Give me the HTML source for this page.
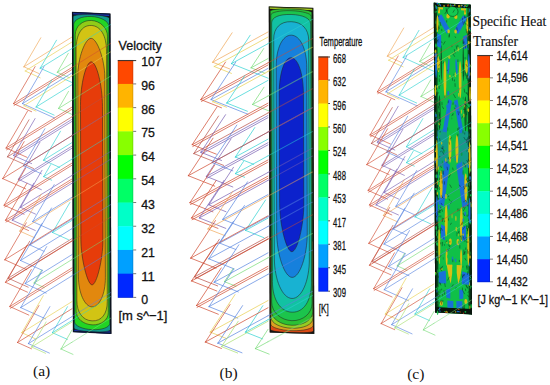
<!DOCTYPE html>
<html><head><meta charset="utf-8"><title>Figure</title>
<style>html,body{margin:0;padding:0;background:#fff;width:550px;height:385px;overflow:hidden}svg{display:block}</style>
</head><body>
<svg width="550" height="385" viewBox="0 0 550 385">
<rect width="550" height="385" fill="#ffffff"/>
<g transform="matrix(1,0,0,1,0,0)" fill="none" stroke-width="0.85" stroke-opacity="0.78" stroke-linecap="round"><line x1="23.9" y1="66.8" x2="38.9" y2="73.5" stroke="#f0a858"/>
<line x1="23.9" y1="66.8" x2="40.8" y2="37.8" stroke="#f0a858"/>
<line x1="23.9" y1="66.8" x2="72.0" y2="37.0" stroke="#f0a858"/>
<line x1="25.2" y1="71.0" x2="40.2" y2="77.8" stroke="#e8d050"/>
<line x1="25.2" y1="71.0" x2="72.0" y2="42.0" stroke="#e8d050"/>
<line x1="40.2" y1="68.2" x2="72.2" y2="82.6" stroke="#30d2d2"/>
<line x1="40.2" y1="68.2" x2="56.5" y2="40.2" stroke="#30d2d2"/>
<line x1="40.2" y1="68.2" x2="72.0" y2="48.5" stroke="#30d2d2"/>
<line x1="57.3" y1="72.3" x2="69.3" y2="77.7" stroke="#78dc78"/>
<line x1="57.3" y1="72.3" x2="68.3" y2="53.3" stroke="#78dc78"/>
<line x1="57.3" y1="72.3" x2="72.0" y2="63.2" stroke="#78dc78"/>
<line x1="13.6" y1="103.6" x2="31.6" y2="111.7" stroke="#d04a30"/>
<line x1="13.6" y1="103.6" x2="35.1" y2="66.6" stroke="#d04a30"/>
<line x1="13.6" y1="103.6" x2="72.0" y2="67.4" stroke="#d04a30"/>
<line x1="14.1" y1="105.4" x2="72.0" y2="69.5" stroke="#d04a30"/>
<line x1="22.5" y1="103.6" x2="54.5" y2="118.0" stroke="#5a86e0"/>
<line x1="22.5" y1="103.6" x2="44.0" y2="66.6" stroke="#5a86e0"/>
<line x1="22.5" y1="103.6" x2="72.0" y2="72.9" stroke="#5a86e0"/>
<line x1="23.9" y1="105.7" x2="35.9" y2="111.1" stroke="#e8d050"/>
<line x1="23.9" y1="105.7" x2="72.0" y2="75.9" stroke="#e8d050"/>
<line x1="36.1" y1="107.0" x2="54.1" y2="115.1" stroke="#30d2d2"/>
<line x1="36.1" y1="107.0" x2="51.8" y2="80.0" stroke="#30d2d2"/>
<line x1="36.1" y1="107.0" x2="72.0" y2="84.7" stroke="#30d2d2"/>
<line x1="58.6" y1="108.4" x2="72.6" y2="114.7" stroke="#78dc78"/>
<line x1="58.6" y1="108.4" x2="68.5" y2="91.4" stroke="#78dc78"/>
<line x1="58.6" y1="108.4" x2="72.0" y2="100.1" stroke="#78dc78"/>
<line x1="6.1" y1="148.0" x2="27.1" y2="157.4" stroke="#d04a30"/>
<line x1="6.1" y1="148.0" x2="27.6" y2="111.0" stroke="#d04a30"/>
<line x1="6.1" y1="148.0" x2="72.0" y2="107.1" stroke="#d04a30"/>
<line x1="6.6" y1="149.8" x2="72.0" y2="109.3" stroke="#d04a30"/>
<line x1="7.5" y1="156.8" x2="33.5" y2="168.5" stroke="#b85048"/>
<line x1="7.5" y1="156.8" x2="29.0" y2="119.8" stroke="#b85048"/>
<line x1="7.5" y1="156.8" x2="72.0" y2="116.8" stroke="#b85048"/>
<line x1="13.6" y1="155.5" x2="31.6" y2="163.6" stroke="#7a60b4"/>
<line x1="13.6" y1="155.5" x2="35.1" y2="118.5" stroke="#7a60b4"/>
<line x1="13.6" y1="155.5" x2="72.0" y2="119.3" stroke="#7a60b4"/>
<line x1="14.1" y1="157.3" x2="72.0" y2="121.4" stroke="#7a60b4"/>
<line x1="23.4" y1="165.7" x2="41.4" y2="173.8" stroke="#5a86e0"/>
<line x1="23.4" y1="165.7" x2="44.9" y2="128.7" stroke="#5a86e0"/>
<line x1="23.4" y1="165.7" x2="72.0" y2="135.6" stroke="#5a86e0"/>
<line x1="43.6" y1="160.2" x2="59.6" y2="167.4" stroke="#30d2d2"/>
<line x1="43.6" y1="160.2" x2="60.5" y2="131.2" stroke="#30d2d2"/>
<line x1="43.6" y1="160.2" x2="72.0" y2="142.6" stroke="#30d2d2"/>
<line x1="2.7" y1="178.6" x2="25.7" y2="188.9" stroke="#d04a30"/>
<line x1="2.7" y1="178.6" x2="24.2" y2="141.6" stroke="#d04a30"/>
<line x1="2.7" y1="178.6" x2="72.0" y2="135.6" stroke="#d04a30"/>
<line x1="18.4" y1="179.3" x2="41.4" y2="189.7" stroke="#7a60b4"/>
<line x1="18.4" y1="179.3" x2="39.9" y2="142.3" stroke="#7a60b4"/>
<line x1="18.4" y1="179.3" x2="72.0" y2="146.1" stroke="#7a60b4"/>
<line x1="18.9" y1="181.1" x2="72.0" y2="148.2" stroke="#7a60b4"/>
<line x1="43.7" y1="176.6" x2="51.7" y2="180.2" stroke="#30d2d2"/>
<line x1="43.7" y1="176.6" x2="50.7" y2="164.6" stroke="#30d2d2"/>
<line x1="43.7" y1="176.6" x2="72.0" y2="159.1" stroke="#30d2d2"/>
<line x1="4.1" y1="205.2" x2="24.1" y2="214.2" stroke="#d04a30"/>
<line x1="4.1" y1="205.2" x2="25.6" y2="168.2" stroke="#d04a30"/>
<line x1="4.1" y1="205.2" x2="72.0" y2="163.1" stroke="#d04a30"/>
<line x1="4.6" y1="207.0" x2="72.0" y2="165.2" stroke="#d04a30"/>
<line x1="20.5" y1="207.3" x2="35.5" y2="214.1" stroke="#7a60b4"/>
<line x1="20.5" y1="207.3" x2="42.0" y2="170.3" stroke="#7a60b4"/>
<line x1="20.5" y1="207.3" x2="72.0" y2="175.4" stroke="#7a60b4"/>
<line x1="5.5" y1="220.2" x2="28.5" y2="230.5" stroke="#d04a30"/>
<line x1="5.5" y1="220.2" x2="27.0" y2="183.2" stroke="#d04a30"/>
<line x1="5.5" y1="220.2" x2="72.0" y2="179.0" stroke="#d04a30"/>
<line x1="6.0" y1="222.0" x2="72.0" y2="181.1" stroke="#d04a30"/>
<line x1="12.3" y1="220.2" x2="35.3" y2="230.5" stroke="#7a60b4"/>
<line x1="12.3" y1="220.2" x2="33.8" y2="183.2" stroke="#7a60b4"/>
<line x1="12.3" y1="220.2" x2="72.0" y2="183.2" stroke="#7a60b4"/>
<line x1="32.7" y1="221.6" x2="51.7" y2="230.2" stroke="#5a86e0"/>
<line x1="32.7" y1="221.6" x2="54.2" y2="184.6" stroke="#5a86e0"/>
<line x1="32.7" y1="221.6" x2="72.0" y2="197.2" stroke="#5a86e0"/>
<line x1="19.8" y1="231.1" x2="34.8" y2="237.8" stroke="#f0a858"/>
<line x1="19.8" y1="231.1" x2="41.3" y2="194.1" stroke="#f0a858"/>
<line x1="19.8" y1="231.1" x2="72.0" y2="198.7" stroke="#f0a858"/>
<line x1="52.5" y1="232.5" x2="68.5" y2="239.7" stroke="#30d2d2"/>
<line x1="52.5" y1="232.5" x2="69.9" y2="202.5" stroke="#30d2d2"/>
<line x1="52.5" y1="232.5" x2="72.0" y2="220.4" stroke="#30d2d2"/>
<line x1="30.0" y1="245.0" x2="44.0" y2="251.3" stroke="#5a86e0"/>
<line x1="30.0" y1="245.0" x2="51.5" y2="208.0" stroke="#5a86e0"/>
<line x1="30.0" y1="245.0" x2="72.0" y2="219.0" stroke="#5a86e0"/>
<line x1="4.8" y1="259.8" x2="26.8" y2="269.7" stroke="#d04a30"/>
<line x1="4.8" y1="259.8" x2="26.3" y2="222.8" stroke="#d04a30"/>
<line x1="4.8" y1="259.8" x2="72.0" y2="218.1" stroke="#d04a30"/>
<line x1="20.5" y1="260.5" x2="42.5" y2="270.4" stroke="#5a86e0"/>
<line x1="20.5" y1="260.5" x2="42.0" y2="223.5" stroke="#5a86e0"/>
<line x1="20.5" y1="260.5" x2="72.0" y2="228.6" stroke="#5a86e0"/>
<line x1="8.2" y1="278.2" x2="28.2" y2="287.2" stroke="#b85048"/>
<line x1="8.2" y1="278.2" x2="29.7" y2="241.2" stroke="#b85048"/>
<line x1="8.2" y1="278.2" x2="72.0" y2="238.6" stroke="#b85048"/>
<line x1="8.7" y1="280.0" x2="72.0" y2="240.8" stroke="#b85048"/>
<line x1="5.5" y1="282.3" x2="27.5" y2="292.2" stroke="#d04a30"/>
<line x1="5.5" y1="282.3" x2="27.0" y2="245.3" stroke="#d04a30"/>
<line x1="5.5" y1="282.3" x2="72.0" y2="241.1" stroke="#d04a30"/>
<line x1="25.2" y1="283.6" x2="46.2" y2="293.1" stroke="#5a86e0"/>
<line x1="25.2" y1="283.6" x2="46.7" y2="246.6" stroke="#5a86e0"/>
<line x1="25.2" y1="283.6" x2="72.0" y2="254.6" stroke="#5a86e0"/>
<line x1="34.1" y1="283.0" x2="44.1" y2="287.5" stroke="#78dc78"/>
<line x1="34.1" y1="283.0" x2="41.7" y2="270.0" stroke="#78dc78"/>
<line x1="34.1" y1="283.0" x2="72.0" y2="259.5" stroke="#78dc78"/>
<line x1="9.8" y1="306.5" x2="28.8" y2="315.1" stroke="#d04a30"/>
<line x1="9.8" y1="306.5" x2="31.3" y2="269.5" stroke="#d04a30"/>
<line x1="9.8" y1="306.5" x2="72.0" y2="267.9" stroke="#d04a30"/>
<line x1="10.3" y1="308.3" x2="72.0" y2="270.1" stroke="#d04a30"/>
<line x1="20.7" y1="307.6" x2="45.7" y2="318.9" stroke="#5a86e0"/>
<line x1="20.7" y1="307.6" x2="42.2" y2="270.6" stroke="#5a86e0"/>
<line x1="20.7" y1="307.6" x2="72.0" y2="275.8" stroke="#5a86e0"/>
<line x1="21.8" y1="332.7" x2="35.8" y2="339.0" stroke="#e8d050"/>
<line x1="21.8" y1="332.7" x2="43.3" y2="295.7" stroke="#e8d050"/>
<line x1="21.8" y1="332.7" x2="72.0" y2="301.6" stroke="#e8d050"/>
<line x1="52.4" y1="332.7" x2="67.4" y2="339.4" stroke="#30d2d2"/>
<line x1="52.4" y1="332.7" x2="67.5" y2="306.7" stroke="#30d2d2"/>
<line x1="52.4" y1="332.7" x2="72.0" y2="320.5" stroke="#30d2d2"/>
<line x1="17.5" y1="342.5" x2="31.5" y2="348.8" stroke="#d04a30"/>
<line x1="17.5" y1="342.5" x2="39.0" y2="305.5" stroke="#d04a30"/>
<line x1="17.5" y1="342.5" x2="72.0" y2="308.7" stroke="#d04a30"/>
<line x1="28.4" y1="343.6" x2="49.4" y2="353.1" stroke="#5a86e0"/>
<line x1="28.4" y1="343.6" x2="49.9" y2="306.6" stroke="#5a86e0"/>
<line x1="28.4" y1="343.6" x2="72.0" y2="316.6" stroke="#5a86e0"/>
<line x1="31.6" y1="347.0" x2="45.6" y2="353.3" stroke="#a8e070"/>
<line x1="31.6" y1="347.0" x2="46.1" y2="322.0" stroke="#a8e070"/>
<line x1="31.6" y1="347.0" x2="72.0" y2="322.0" stroke="#a8e070"/>
<line x1="61.0" y1="349.0" x2="73.0" y2="354.4" stroke="#78dc78"/>
<line x1="61.0" y1="349.0" x2="72.0" y2="330.0" stroke="#78dc78"/>
<line x1="61.0" y1="349.0" x2="72.0" y2="342.2" stroke="#78dc78"/></g>
<g transform="matrix(1.15,0,0,1.015,185.2,-5.58)" fill="none" stroke-width="0.85" stroke-opacity="0.78" stroke-linecap="round"><line x1="23.9" y1="66.8" x2="38.9" y2="73.5" stroke="#f0a858"/>
<line x1="23.9" y1="66.8" x2="40.8" y2="37.8" stroke="#f0a858"/>
<line x1="23.9" y1="66.8" x2="72.0" y2="37.0" stroke="#f0a858"/>
<line x1="25.2" y1="71.0" x2="40.2" y2="77.8" stroke="#e8d050"/>
<line x1="25.2" y1="71.0" x2="72.0" y2="42.0" stroke="#e8d050"/>
<line x1="40.2" y1="68.2" x2="72.2" y2="82.6" stroke="#30d2d2"/>
<line x1="40.2" y1="68.2" x2="56.5" y2="40.2" stroke="#30d2d2"/>
<line x1="40.2" y1="68.2" x2="72.0" y2="48.5" stroke="#30d2d2"/>
<line x1="57.3" y1="72.3" x2="69.3" y2="77.7" stroke="#78dc78"/>
<line x1="57.3" y1="72.3" x2="68.3" y2="53.3" stroke="#78dc78"/>
<line x1="57.3" y1="72.3" x2="72.0" y2="63.2" stroke="#78dc78"/>
<line x1="13.6" y1="103.6" x2="31.6" y2="111.7" stroke="#d04a30"/>
<line x1="13.6" y1="103.6" x2="35.1" y2="66.6" stroke="#d04a30"/>
<line x1="13.6" y1="103.6" x2="72.0" y2="67.4" stroke="#d04a30"/>
<line x1="14.1" y1="105.4" x2="72.0" y2="69.5" stroke="#d04a30"/>
<line x1="22.5" y1="103.6" x2="54.5" y2="118.0" stroke="#5a86e0"/>
<line x1="22.5" y1="103.6" x2="44.0" y2="66.6" stroke="#5a86e0"/>
<line x1="22.5" y1="103.6" x2="72.0" y2="72.9" stroke="#5a86e0"/>
<line x1="23.9" y1="105.7" x2="35.9" y2="111.1" stroke="#e8d050"/>
<line x1="23.9" y1="105.7" x2="72.0" y2="75.9" stroke="#e8d050"/>
<line x1="36.1" y1="107.0" x2="54.1" y2="115.1" stroke="#30d2d2"/>
<line x1="36.1" y1="107.0" x2="51.8" y2="80.0" stroke="#30d2d2"/>
<line x1="36.1" y1="107.0" x2="72.0" y2="84.7" stroke="#30d2d2"/>
<line x1="58.6" y1="108.4" x2="72.6" y2="114.7" stroke="#78dc78"/>
<line x1="58.6" y1="108.4" x2="68.5" y2="91.4" stroke="#78dc78"/>
<line x1="58.6" y1="108.4" x2="72.0" y2="100.1" stroke="#78dc78"/>
<line x1="6.1" y1="148.0" x2="27.1" y2="157.4" stroke="#d04a30"/>
<line x1="6.1" y1="148.0" x2="27.6" y2="111.0" stroke="#d04a30"/>
<line x1="6.1" y1="148.0" x2="72.0" y2="107.1" stroke="#d04a30"/>
<line x1="6.6" y1="149.8" x2="72.0" y2="109.3" stroke="#d04a30"/>
<line x1="7.5" y1="156.8" x2="33.5" y2="168.5" stroke="#b85048"/>
<line x1="7.5" y1="156.8" x2="29.0" y2="119.8" stroke="#b85048"/>
<line x1="7.5" y1="156.8" x2="72.0" y2="116.8" stroke="#b85048"/>
<line x1="13.6" y1="155.5" x2="31.6" y2="163.6" stroke="#7a60b4"/>
<line x1="13.6" y1="155.5" x2="35.1" y2="118.5" stroke="#7a60b4"/>
<line x1="13.6" y1="155.5" x2="72.0" y2="119.3" stroke="#7a60b4"/>
<line x1="14.1" y1="157.3" x2="72.0" y2="121.4" stroke="#7a60b4"/>
<line x1="23.4" y1="165.7" x2="41.4" y2="173.8" stroke="#5a86e0"/>
<line x1="23.4" y1="165.7" x2="44.9" y2="128.7" stroke="#5a86e0"/>
<line x1="23.4" y1="165.7" x2="72.0" y2="135.6" stroke="#5a86e0"/>
<line x1="43.6" y1="160.2" x2="59.6" y2="167.4" stroke="#30d2d2"/>
<line x1="43.6" y1="160.2" x2="60.5" y2="131.2" stroke="#30d2d2"/>
<line x1="43.6" y1="160.2" x2="72.0" y2="142.6" stroke="#30d2d2"/>
<line x1="2.7" y1="178.6" x2="25.7" y2="188.9" stroke="#d04a30"/>
<line x1="2.7" y1="178.6" x2="24.2" y2="141.6" stroke="#d04a30"/>
<line x1="2.7" y1="178.6" x2="72.0" y2="135.6" stroke="#d04a30"/>
<line x1="18.4" y1="179.3" x2="41.4" y2="189.7" stroke="#7a60b4"/>
<line x1="18.4" y1="179.3" x2="39.9" y2="142.3" stroke="#7a60b4"/>
<line x1="18.4" y1="179.3" x2="72.0" y2="146.1" stroke="#7a60b4"/>
<line x1="18.9" y1="181.1" x2="72.0" y2="148.2" stroke="#7a60b4"/>
<line x1="43.7" y1="176.6" x2="51.7" y2="180.2" stroke="#30d2d2"/>
<line x1="43.7" y1="176.6" x2="50.7" y2="164.6" stroke="#30d2d2"/>
<line x1="43.7" y1="176.6" x2="72.0" y2="159.1" stroke="#30d2d2"/>
<line x1="4.1" y1="205.2" x2="24.1" y2="214.2" stroke="#d04a30"/>
<line x1="4.1" y1="205.2" x2="25.6" y2="168.2" stroke="#d04a30"/>
<line x1="4.1" y1="205.2" x2="72.0" y2="163.1" stroke="#d04a30"/>
<line x1="4.6" y1="207.0" x2="72.0" y2="165.2" stroke="#d04a30"/>
<line x1="20.5" y1="207.3" x2="35.5" y2="214.1" stroke="#7a60b4"/>
<line x1="20.5" y1="207.3" x2="42.0" y2="170.3" stroke="#7a60b4"/>
<line x1="20.5" y1="207.3" x2="72.0" y2="175.4" stroke="#7a60b4"/>
<line x1="5.5" y1="220.2" x2="28.5" y2="230.5" stroke="#d04a30"/>
<line x1="5.5" y1="220.2" x2="27.0" y2="183.2" stroke="#d04a30"/>
<line x1="5.5" y1="220.2" x2="72.0" y2="179.0" stroke="#d04a30"/>
<line x1="6.0" y1="222.0" x2="72.0" y2="181.1" stroke="#d04a30"/>
<line x1="12.3" y1="220.2" x2="35.3" y2="230.5" stroke="#7a60b4"/>
<line x1="12.3" y1="220.2" x2="33.8" y2="183.2" stroke="#7a60b4"/>
<line x1="12.3" y1="220.2" x2="72.0" y2="183.2" stroke="#7a60b4"/>
<line x1="32.7" y1="221.6" x2="51.7" y2="230.2" stroke="#5a86e0"/>
<line x1="32.7" y1="221.6" x2="54.2" y2="184.6" stroke="#5a86e0"/>
<line x1="32.7" y1="221.6" x2="72.0" y2="197.2" stroke="#5a86e0"/>
<line x1="19.8" y1="231.1" x2="34.8" y2="237.8" stroke="#f0a858"/>
<line x1="19.8" y1="231.1" x2="41.3" y2="194.1" stroke="#f0a858"/>
<line x1="19.8" y1="231.1" x2="72.0" y2="198.7" stroke="#f0a858"/>
<line x1="52.5" y1="232.5" x2="68.5" y2="239.7" stroke="#30d2d2"/>
<line x1="52.5" y1="232.5" x2="69.9" y2="202.5" stroke="#30d2d2"/>
<line x1="52.5" y1="232.5" x2="72.0" y2="220.4" stroke="#30d2d2"/>
<line x1="30.0" y1="245.0" x2="44.0" y2="251.3" stroke="#5a86e0"/>
<line x1="30.0" y1="245.0" x2="51.5" y2="208.0" stroke="#5a86e0"/>
<line x1="30.0" y1="245.0" x2="72.0" y2="219.0" stroke="#5a86e0"/>
<line x1="4.8" y1="259.8" x2="26.8" y2="269.7" stroke="#d04a30"/>
<line x1="4.8" y1="259.8" x2="26.3" y2="222.8" stroke="#d04a30"/>
<line x1="4.8" y1="259.8" x2="72.0" y2="218.1" stroke="#d04a30"/>
<line x1="20.5" y1="260.5" x2="42.5" y2="270.4" stroke="#5a86e0"/>
<line x1="20.5" y1="260.5" x2="42.0" y2="223.5" stroke="#5a86e0"/>
<line x1="20.5" y1="260.5" x2="72.0" y2="228.6" stroke="#5a86e0"/>
<line x1="8.2" y1="278.2" x2="28.2" y2="287.2" stroke="#b85048"/>
<line x1="8.2" y1="278.2" x2="29.7" y2="241.2" stroke="#b85048"/>
<line x1="8.2" y1="278.2" x2="72.0" y2="238.6" stroke="#b85048"/>
<line x1="8.7" y1="280.0" x2="72.0" y2="240.8" stroke="#b85048"/>
<line x1="5.5" y1="282.3" x2="27.5" y2="292.2" stroke="#d04a30"/>
<line x1="5.5" y1="282.3" x2="27.0" y2="245.3" stroke="#d04a30"/>
<line x1="5.5" y1="282.3" x2="72.0" y2="241.1" stroke="#d04a30"/>
<line x1="25.2" y1="283.6" x2="46.2" y2="293.1" stroke="#5a86e0"/>
<line x1="25.2" y1="283.6" x2="46.7" y2="246.6" stroke="#5a86e0"/>
<line x1="25.2" y1="283.6" x2="72.0" y2="254.6" stroke="#5a86e0"/>
<line x1="34.1" y1="283.0" x2="44.1" y2="287.5" stroke="#78dc78"/>
<line x1="34.1" y1="283.0" x2="41.7" y2="270.0" stroke="#78dc78"/>
<line x1="34.1" y1="283.0" x2="72.0" y2="259.5" stroke="#78dc78"/>
<line x1="9.8" y1="306.5" x2="28.8" y2="315.1" stroke="#d04a30"/>
<line x1="9.8" y1="306.5" x2="31.3" y2="269.5" stroke="#d04a30"/>
<line x1="9.8" y1="306.5" x2="72.0" y2="267.9" stroke="#d04a30"/>
<line x1="10.3" y1="308.3" x2="72.0" y2="270.1" stroke="#d04a30"/>
<line x1="20.7" y1="307.6" x2="45.7" y2="318.9" stroke="#5a86e0"/>
<line x1="20.7" y1="307.6" x2="42.2" y2="270.6" stroke="#5a86e0"/>
<line x1="20.7" y1="307.6" x2="72.0" y2="275.8" stroke="#5a86e0"/>
<line x1="21.8" y1="332.7" x2="35.8" y2="339.0" stroke="#e8d050"/>
<line x1="21.8" y1="332.7" x2="43.3" y2="295.7" stroke="#e8d050"/>
<line x1="21.8" y1="332.7" x2="72.0" y2="301.6" stroke="#e8d050"/>
<line x1="52.4" y1="332.7" x2="67.4" y2="339.4" stroke="#30d2d2"/>
<line x1="52.4" y1="332.7" x2="67.5" y2="306.7" stroke="#30d2d2"/>
<line x1="52.4" y1="332.7" x2="72.0" y2="320.5" stroke="#30d2d2"/>
<line x1="17.5" y1="342.5" x2="31.5" y2="348.8" stroke="#d04a30"/>
<line x1="17.5" y1="342.5" x2="39.0" y2="305.5" stroke="#d04a30"/>
<line x1="17.5" y1="342.5" x2="72.0" y2="308.7" stroke="#d04a30"/>
<line x1="28.4" y1="343.6" x2="49.4" y2="353.1" stroke="#5a86e0"/>
<line x1="28.4" y1="343.6" x2="49.9" y2="306.6" stroke="#5a86e0"/>
<line x1="28.4" y1="343.6" x2="72.0" y2="316.6" stroke="#5a86e0"/>
<line x1="31.6" y1="347.0" x2="45.6" y2="353.3" stroke="#a8e070"/>
<line x1="31.6" y1="347.0" x2="46.1" y2="322.0" stroke="#a8e070"/>
<line x1="31.6" y1="347.0" x2="72.0" y2="322.0" stroke="#a8e070"/>
<line x1="61.0" y1="349.0" x2="73.0" y2="354.4" stroke="#78dc78"/>
<line x1="61.0" y1="349.0" x2="72.0" y2="330.0" stroke="#78dc78"/>
<line x1="61.0" y1="349.0" x2="72.0" y2="342.2" stroke="#78dc78"/></g>
<g transform="matrix(0.97,0,0,0.97,364.16,-8.64)" fill="none" stroke-width="0.85" stroke-opacity="0.78" stroke-linecap="round"><line x1="23.9" y1="66.8" x2="38.9" y2="73.5" stroke="#f0a858"/>
<line x1="23.9" y1="66.8" x2="40.8" y2="37.8" stroke="#f0a858"/>
<line x1="23.9" y1="66.8" x2="72.0" y2="37.0" stroke="#f0a858"/>
<line x1="25.2" y1="71.0" x2="40.2" y2="77.8" stroke="#e8d050"/>
<line x1="25.2" y1="71.0" x2="72.0" y2="42.0" stroke="#e8d050"/>
<line x1="40.2" y1="68.2" x2="72.2" y2="82.6" stroke="#30d2d2"/>
<line x1="40.2" y1="68.2" x2="56.5" y2="40.2" stroke="#30d2d2"/>
<line x1="40.2" y1="68.2" x2="72.0" y2="48.5" stroke="#30d2d2"/>
<line x1="57.3" y1="72.3" x2="69.3" y2="77.7" stroke="#78dc78"/>
<line x1="57.3" y1="72.3" x2="68.3" y2="53.3" stroke="#78dc78"/>
<line x1="57.3" y1="72.3" x2="72.0" y2="63.2" stroke="#78dc78"/>
<line x1="13.6" y1="103.6" x2="31.6" y2="111.7" stroke="#d04a30"/>
<line x1="13.6" y1="103.6" x2="35.1" y2="66.6" stroke="#d04a30"/>
<line x1="13.6" y1="103.6" x2="72.0" y2="67.4" stroke="#d04a30"/>
<line x1="14.1" y1="105.4" x2="72.0" y2="69.5" stroke="#d04a30"/>
<line x1="22.5" y1="103.6" x2="54.5" y2="118.0" stroke="#5a86e0"/>
<line x1="22.5" y1="103.6" x2="44.0" y2="66.6" stroke="#5a86e0"/>
<line x1="22.5" y1="103.6" x2="72.0" y2="72.9" stroke="#5a86e0"/>
<line x1="23.9" y1="105.7" x2="35.9" y2="111.1" stroke="#e8d050"/>
<line x1="23.9" y1="105.7" x2="72.0" y2="75.9" stroke="#e8d050"/>
<line x1="36.1" y1="107.0" x2="54.1" y2="115.1" stroke="#30d2d2"/>
<line x1="36.1" y1="107.0" x2="51.8" y2="80.0" stroke="#30d2d2"/>
<line x1="36.1" y1="107.0" x2="72.0" y2="84.7" stroke="#30d2d2"/>
<line x1="58.6" y1="108.4" x2="72.6" y2="114.7" stroke="#78dc78"/>
<line x1="58.6" y1="108.4" x2="68.5" y2="91.4" stroke="#78dc78"/>
<line x1="58.6" y1="108.4" x2="72.0" y2="100.1" stroke="#78dc78"/>
<line x1="6.1" y1="148.0" x2="27.1" y2="157.4" stroke="#d04a30"/>
<line x1="6.1" y1="148.0" x2="27.6" y2="111.0" stroke="#d04a30"/>
<line x1="6.1" y1="148.0" x2="72.0" y2="107.1" stroke="#d04a30"/>
<line x1="6.6" y1="149.8" x2="72.0" y2="109.3" stroke="#d04a30"/>
<line x1="7.5" y1="156.8" x2="33.5" y2="168.5" stroke="#b85048"/>
<line x1="7.5" y1="156.8" x2="29.0" y2="119.8" stroke="#b85048"/>
<line x1="7.5" y1="156.8" x2="72.0" y2="116.8" stroke="#b85048"/>
<line x1="13.6" y1="155.5" x2="31.6" y2="163.6" stroke="#7a60b4"/>
<line x1="13.6" y1="155.5" x2="35.1" y2="118.5" stroke="#7a60b4"/>
<line x1="13.6" y1="155.5" x2="72.0" y2="119.3" stroke="#7a60b4"/>
<line x1="14.1" y1="157.3" x2="72.0" y2="121.4" stroke="#7a60b4"/>
<line x1="23.4" y1="165.7" x2="41.4" y2="173.8" stroke="#5a86e0"/>
<line x1="23.4" y1="165.7" x2="44.9" y2="128.7" stroke="#5a86e0"/>
<line x1="23.4" y1="165.7" x2="72.0" y2="135.6" stroke="#5a86e0"/>
<line x1="43.6" y1="160.2" x2="59.6" y2="167.4" stroke="#30d2d2"/>
<line x1="43.6" y1="160.2" x2="60.5" y2="131.2" stroke="#30d2d2"/>
<line x1="43.6" y1="160.2" x2="72.0" y2="142.6" stroke="#30d2d2"/>
<line x1="2.7" y1="178.6" x2="25.7" y2="188.9" stroke="#d04a30"/>
<line x1="2.7" y1="178.6" x2="24.2" y2="141.6" stroke="#d04a30"/>
<line x1="2.7" y1="178.6" x2="72.0" y2="135.6" stroke="#d04a30"/>
<line x1="18.4" y1="179.3" x2="41.4" y2="189.7" stroke="#7a60b4"/>
<line x1="18.4" y1="179.3" x2="39.9" y2="142.3" stroke="#7a60b4"/>
<line x1="18.4" y1="179.3" x2="72.0" y2="146.1" stroke="#7a60b4"/>
<line x1="18.9" y1="181.1" x2="72.0" y2="148.2" stroke="#7a60b4"/>
<line x1="43.7" y1="176.6" x2="51.7" y2="180.2" stroke="#30d2d2"/>
<line x1="43.7" y1="176.6" x2="50.7" y2="164.6" stroke="#30d2d2"/>
<line x1="43.7" y1="176.6" x2="72.0" y2="159.1" stroke="#30d2d2"/>
<line x1="4.1" y1="205.2" x2="24.1" y2="214.2" stroke="#d04a30"/>
<line x1="4.1" y1="205.2" x2="25.6" y2="168.2" stroke="#d04a30"/>
<line x1="4.1" y1="205.2" x2="72.0" y2="163.1" stroke="#d04a30"/>
<line x1="4.6" y1="207.0" x2="72.0" y2="165.2" stroke="#d04a30"/>
<line x1="20.5" y1="207.3" x2="35.5" y2="214.1" stroke="#7a60b4"/>
<line x1="20.5" y1="207.3" x2="42.0" y2="170.3" stroke="#7a60b4"/>
<line x1="20.5" y1="207.3" x2="72.0" y2="175.4" stroke="#7a60b4"/>
<line x1="5.5" y1="220.2" x2="28.5" y2="230.5" stroke="#d04a30"/>
<line x1="5.5" y1="220.2" x2="27.0" y2="183.2" stroke="#d04a30"/>
<line x1="5.5" y1="220.2" x2="72.0" y2="179.0" stroke="#d04a30"/>
<line x1="6.0" y1="222.0" x2="72.0" y2="181.1" stroke="#d04a30"/>
<line x1="12.3" y1="220.2" x2="35.3" y2="230.5" stroke="#7a60b4"/>
<line x1="12.3" y1="220.2" x2="33.8" y2="183.2" stroke="#7a60b4"/>
<line x1="12.3" y1="220.2" x2="72.0" y2="183.2" stroke="#7a60b4"/>
<line x1="32.7" y1="221.6" x2="51.7" y2="230.2" stroke="#5a86e0"/>
<line x1="32.7" y1="221.6" x2="54.2" y2="184.6" stroke="#5a86e0"/>
<line x1="32.7" y1="221.6" x2="72.0" y2="197.2" stroke="#5a86e0"/>
<line x1="19.8" y1="231.1" x2="34.8" y2="237.8" stroke="#f0a858"/>
<line x1="19.8" y1="231.1" x2="41.3" y2="194.1" stroke="#f0a858"/>
<line x1="19.8" y1="231.1" x2="72.0" y2="198.7" stroke="#f0a858"/>
<line x1="52.5" y1="232.5" x2="68.5" y2="239.7" stroke="#30d2d2"/>
<line x1="52.5" y1="232.5" x2="69.9" y2="202.5" stroke="#30d2d2"/>
<line x1="52.5" y1="232.5" x2="72.0" y2="220.4" stroke="#30d2d2"/>
<line x1="30.0" y1="245.0" x2="44.0" y2="251.3" stroke="#5a86e0"/>
<line x1="30.0" y1="245.0" x2="51.5" y2="208.0" stroke="#5a86e0"/>
<line x1="30.0" y1="245.0" x2="72.0" y2="219.0" stroke="#5a86e0"/>
<line x1="4.8" y1="259.8" x2="26.8" y2="269.7" stroke="#d04a30"/>
<line x1="4.8" y1="259.8" x2="26.3" y2="222.8" stroke="#d04a30"/>
<line x1="4.8" y1="259.8" x2="72.0" y2="218.1" stroke="#d04a30"/>
<line x1="20.5" y1="260.5" x2="42.5" y2="270.4" stroke="#5a86e0"/>
<line x1="20.5" y1="260.5" x2="42.0" y2="223.5" stroke="#5a86e0"/>
<line x1="20.5" y1="260.5" x2="72.0" y2="228.6" stroke="#5a86e0"/>
<line x1="8.2" y1="278.2" x2="28.2" y2="287.2" stroke="#b85048"/>
<line x1="8.2" y1="278.2" x2="29.7" y2="241.2" stroke="#b85048"/>
<line x1="8.2" y1="278.2" x2="72.0" y2="238.6" stroke="#b85048"/>
<line x1="8.7" y1="280.0" x2="72.0" y2="240.8" stroke="#b85048"/>
<line x1="5.5" y1="282.3" x2="27.5" y2="292.2" stroke="#d04a30"/>
<line x1="5.5" y1="282.3" x2="27.0" y2="245.3" stroke="#d04a30"/>
<line x1="5.5" y1="282.3" x2="72.0" y2="241.1" stroke="#d04a30"/>
<line x1="25.2" y1="283.6" x2="46.2" y2="293.1" stroke="#5a86e0"/>
<line x1="25.2" y1="283.6" x2="46.7" y2="246.6" stroke="#5a86e0"/>
<line x1="25.2" y1="283.6" x2="72.0" y2="254.6" stroke="#5a86e0"/>
<line x1="34.1" y1="283.0" x2="44.1" y2="287.5" stroke="#78dc78"/>
<line x1="34.1" y1="283.0" x2="41.7" y2="270.0" stroke="#78dc78"/>
<line x1="34.1" y1="283.0" x2="72.0" y2="259.5" stroke="#78dc78"/>
<line x1="9.8" y1="306.5" x2="28.8" y2="315.1" stroke="#d04a30"/>
<line x1="9.8" y1="306.5" x2="31.3" y2="269.5" stroke="#d04a30"/>
<line x1="9.8" y1="306.5" x2="72.0" y2="267.9" stroke="#d04a30"/>
<line x1="10.3" y1="308.3" x2="72.0" y2="270.1" stroke="#d04a30"/>
<line x1="20.7" y1="307.6" x2="45.7" y2="318.9" stroke="#5a86e0"/>
<line x1="20.7" y1="307.6" x2="42.2" y2="270.6" stroke="#5a86e0"/>
<line x1="20.7" y1="307.6" x2="72.0" y2="275.8" stroke="#5a86e0"/>
<line x1="21.8" y1="332.7" x2="35.8" y2="339.0" stroke="#e8d050"/>
<line x1="21.8" y1="332.7" x2="43.3" y2="295.7" stroke="#e8d050"/>
<line x1="21.8" y1="332.7" x2="72.0" y2="301.6" stroke="#e8d050"/>
<line x1="52.4" y1="332.7" x2="67.4" y2="339.4" stroke="#30d2d2"/>
<line x1="52.4" y1="332.7" x2="67.5" y2="306.7" stroke="#30d2d2"/>
<line x1="52.4" y1="332.7" x2="72.0" y2="320.5" stroke="#30d2d2"/>
<line x1="17.5" y1="342.5" x2="31.5" y2="348.8" stroke="#d04a30"/>
<line x1="17.5" y1="342.5" x2="39.0" y2="305.5" stroke="#d04a30"/>
<line x1="17.5" y1="342.5" x2="72.0" y2="308.7" stroke="#d04a30"/>
<line x1="28.4" y1="343.6" x2="49.4" y2="353.1" stroke="#5a86e0"/>
<line x1="28.4" y1="343.6" x2="49.9" y2="306.6" stroke="#5a86e0"/>
<line x1="28.4" y1="343.6" x2="72.0" y2="316.6" stroke="#5a86e0"/>
<line x1="31.6" y1="347.0" x2="45.6" y2="353.3" stroke="#a8e070"/>
<line x1="31.6" y1="347.0" x2="46.1" y2="322.0" stroke="#a8e070"/>
<line x1="31.6" y1="347.0" x2="72.0" y2="322.0" stroke="#a8e070"/>
<line x1="61.0" y1="349.0" x2="73.0" y2="354.4" stroke="#78dc78"/>
<line x1="61.0" y1="349.0" x2="72.0" y2="330.0" stroke="#78dc78"/>
<line x1="61.0" y1="349.0" x2="72.0" y2="342.2" stroke="#78dc78"/></g>
<g transform="translate(72,12) matrix(1,0.045,0.003,1,0,0) translate(-72,-12)">
<rect x="72" y="12" width="38.4" height="320" fill="#0c1424"/><rect x="72.5" y="12" width="37.5" height="2.2" fill="#1838c0"/><rect x="72.5" y="329.8" width="37.5" height="2.2" fill="#1838c0"/>
<path d="M72.90,16.80C72.90,15.14 81.09,13.80 91.20,13.80C101.31,13.80 109.50,15.14 109.50,16.80L109.50,328.00C109.50,329.66 101.31,331.00 91.20,331.00C81.09,331.00 72.90,329.66 72.90,328.00Z" fill="#109a8c" stroke="#202020" stroke-width="0.7" stroke-opacity="0.75"/>
<path d="M73.60,24.60C73.60,19.63 81.48,15.60 91.20,15.60C100.92,15.60 108.80,19.63 108.80,24.60L108.80,321.80C108.80,325.67 100.92,328.80 91.20,328.80C81.48,328.80 73.60,325.67 73.60,321.80Z" fill="#22d424" stroke="#202020" stroke-width="0.7" stroke-opacity="0.75"/>
<path d="M75.20,34.60C75.20,26.32 82.41,19.60 91.30,19.60C100.19,19.60 107.40,26.32 107.40,34.60L107.40,311.00C107.40,318.18 100.19,324.00 91.30,324.00C82.41,324.00 75.20,318.18 75.20,311.00Z" fill="#90cc18" stroke="#202020" stroke-width="0.7" stroke-opacity="0.75"/>
<path d="M76.00,49.60C76.00,34.10 81.78,24.60 91.20,24.60C100.62,24.60 106.40,34.10 106.40,49.60L106.40,300.00C106.40,312.40 100.62,320.00 91.20,320.00C81.78,320.00 76.00,312.40 76.00,300.00Z" fill="#d2c414" stroke="#202020" stroke-width="0.7" stroke-opacity="0.75"/>
<path d="M77.60,75.50C77.60,58.40 85.02,37.50 91.10,37.50C97.17,37.50 104.60,58.40 104.60,75.50L104.60,276.00C104.60,292.50 98.52,306.00 91.10,306.00C83.67,306.00 77.60,292.50 77.60,276.00Z" fill="#e2880e" stroke="#202020" stroke-width="0.7" stroke-opacity="0.75"/>
<path d="M80.20,105.00C80.20,83.88 85.92,61.00 91.20,61.00C96.48,61.00 102.20,83.88 102.20,105.00L102.20,239.00C102.20,257.90 95.82,284.00 91.20,284.00C86.58,284.00 80.20,257.90 80.20,239.00Z" fill="#e63c0a" stroke="#202020" stroke-width="0.7" stroke-opacity="0.75"/>
<rect x="72.6" y="12.5" width="37.2" height="319" fill="none" stroke="#0a0f1a" stroke-width="1.4" stroke-opacity="0.85"/>
</g>
<g transform="translate(268.5,6.6) matrix(1,0.03,0.003,1,0,0) translate(-268.5,-6.6)">
<rect x="268.8" y="6.6" width="44.4" height="325.8" fill="#1a1610"/><rect x="269.2" y="6.8" width="43.6" height="2" fill="#a8d020"/>
<path d="M269.30,240.01C269.30,240.00 279.02,240.00 291.00,240.00C302.98,240.00 312.70,240.00 312.70,240.01L312.70,329.30C312.70,330.96 302.98,332.30 291.00,332.30C279.02,332.30 269.30,330.96 269.30,329.30Z" fill="#dc4a14" stroke="#202020" stroke-width="0.7" stroke-opacity="0.75"/>
<path d="M269.80,268.01C269.80,268.00 279.29,268.00 291.00,268.00C302.71,268.00 312.20,268.00 312.20,268.01L312.20,324.00C312.20,327.31 302.71,330.00 291.00,330.00C279.29,330.00 269.80,327.31 269.80,324.00Z" fill="#dca020" stroke="#202020" stroke-width="0.7" stroke-opacity="0.75"/>
<path d="M270.20,285.01C270.20,285.00 279.51,285.00 291.00,285.00C302.49,285.00 311.80,285.00 311.80,285.01L311.80,317.60C311.80,323.12 302.49,327.60 291.00,327.60C279.51,327.60 270.20,323.12 270.20,317.60Z" fill="#96cc22" stroke="#202020" stroke-width="0.7" stroke-opacity="0.75"/>
<path d="M270.20,11.20C270.20,9.54 279.51,8.20 291.00,8.20C302.49,8.20 311.80,9.54 311.80,11.20L311.80,310.60C311.80,318.33 302.49,324.60 291.00,324.60C279.51,324.60 270.20,318.33 270.20,310.60Z" fill="#2ac034" stroke="#202020" stroke-width="0.7" stroke-opacity="0.75"/>
<path d="M270.80,15.00C270.80,12.24 279.84,10.00 291.00,10.00C302.16,10.00 311.20,12.24 311.20,15.00L311.20,302.00C311.20,311.94 302.16,320.00 291.00,320.00C279.84,320.00 270.80,311.94 270.80,302.00Z" fill="#1cc44c" stroke="#202020" stroke-width="0.7" stroke-opacity="0.75"/>
<path d="M271.60,22.80C271.60,17.22 279.01,13.80 291.10,13.80C303.19,13.80 310.60,17.22 310.60,22.80L310.60,281.50C310.60,299.50 302.80,311.50 291.10,311.50C279.40,311.50 271.60,299.50 271.60,281.50Z" fill="#12c2a2" stroke="#202020" stroke-width="0.7" stroke-opacity="0.75"/>
<path d="M273.60,39.00C273.60,27.84 280.25,21.00 291.10,21.00C301.95,21.00 308.60,27.84 308.60,39.00L308.60,257.80C308.60,279.80 300.73,297.80 291.10,297.80C281.48,297.80 273.60,279.80 273.60,257.80Z" fill="#18b2d2" stroke="#202020" stroke-width="0.7" stroke-opacity="0.75"/>
<path d="M276.00,66.50C276.00,47.94 282.43,34.50 291.30,34.50C300.17,34.50 306.60,47.94 306.60,66.50L306.60,231.70C306.60,254.20 298.95,276.70 291.30,276.70C283.65,276.70 276.00,254.20 276.00,231.70Z" fill="#1680dc" stroke="#202020" stroke-width="0.7" stroke-opacity="0.75"/>
<path d="M279.00,93.00C279.00,72.84 284.32,57.00 291.10,57.00C297.88,57.00 303.20,72.84 303.20,93.00L303.20,203.00C303.20,224.60 296.55,251.00 291.10,251.00C285.66,251.00 279.00,224.60 279.00,203.00Z" fill="#0c22cc" stroke="#202020" stroke-width="0.7" stroke-opacity="0.75"/>
<rect x="269.3" y="7.0" width="43.5" height="325" fill="none" stroke="#101410" stroke-width="1.1" stroke-opacity="0.85"/>
</g>
<g transform="translate(433.8,2.8) matrix(1,0.05,0.0045,1,0,0) translate(-433.8,-2.8)">
<rect x="433.8" y="2.8" width="36.80000000000001" height="309.8" fill="#10c048"/>
<rect x="433.8" y="2.8" width="3.4" height="309.8" fill="#08140c" fill-opacity="0.7"/>
<rect x="467.40000000000003" y="2.8" width="3.2" height="309.8" fill="#08140c" fill-opacity="0.7"/>
<rect x="433.8" y="2.8" width="1.4" height="309.8" fill="#08140c"/>
<rect x="469.20000000000005" y="2.8" width="1.4" height="309.8" fill="#08140c"/>
<rect x="433.8" y="2.8" width="36.80000000000001" height="3.6" fill="#08140c"/>
<rect x="433.8" y="307.1" width="36.80000000000001" height="5.5" fill="#08140c"/>
<ellipse cx="437.1" cy="176.2" rx="0.6" ry="2.0" fill="#1870d8" fill-opacity="0.9"/>
<ellipse cx="435.7" cy="251.8" rx="0.8" ry="0.9" fill="#1a8a30" fill-opacity="0.9"/>
<ellipse cx="436.7" cy="30.9" rx="0.7" ry="1.4" fill="#10c048" fill-opacity="0.9"/>
<ellipse cx="436.3" cy="231.7" rx="0.4" ry="1.5" fill="#1a8a30" fill-opacity="0.9"/>
<ellipse cx="435.0" cy="61.7" rx="0.8" ry="1.3" fill="#10c048" fill-opacity="0.9"/>
<ellipse cx="469.4" cy="63.3" rx="0.6" ry="1.7" fill="#d8c014" fill-opacity="0.9"/>
<ellipse cx="437.3" cy="89.0" rx="0.8" ry="1.2" fill="#10c048" fill-opacity="0.9"/>
<ellipse cx="434.5" cy="92.3" rx="0.6" ry="2.0" fill="#10c048" fill-opacity="0.9"/>
<ellipse cx="436.8" cy="299.6" rx="0.5" ry="2.1" fill="#10c048" fill-opacity="0.9"/>
<ellipse cx="436.4" cy="119.1" rx="0.4" ry="1.7" fill="#1870d8" fill-opacity="0.9"/>
<ellipse cx="469.8" cy="86.4" rx="0.4" ry="1.4" fill="#d8c014" fill-opacity="0.9"/>
<ellipse cx="468.0" cy="44.5" rx="0.4" ry="1.9" fill="#10c048" fill-opacity="0.9"/>
<ellipse cx="435.6" cy="176.1" rx="0.9" ry="1.9" fill="#10c048" fill-opacity="0.9"/>
<ellipse cx="435.5" cy="121.7" rx="0.4" ry="2.0" fill="#10c048" fill-opacity="0.9"/>
<ellipse cx="467.1" cy="186.4" rx="0.5" ry="1.4" fill="#10c048" fill-opacity="0.9"/>
<ellipse cx="469.8" cy="201.6" rx="0.5" ry="1.2" fill="#10c048" fill-opacity="0.9"/>
<ellipse cx="469.2" cy="104.7" rx="0.4" ry="1.1" fill="#10c048" fill-opacity="0.9"/>
<ellipse cx="469.0" cy="7.6" rx="0.6" ry="2.1" fill="#1a8a30" fill-opacity="0.9"/>
<ellipse cx="436.9" cy="180.8" rx="0.7" ry="1.2" fill="#10c048" fill-opacity="0.9"/>
<ellipse cx="436.5" cy="191.9" rx="0.8" ry="2.1" fill="#10c048" fill-opacity="0.9"/>
<ellipse cx="436.9" cy="297.2" rx="0.4" ry="0.9" fill="#1a8a30" fill-opacity="0.9"/>
<ellipse cx="435.1" cy="161.5" rx="0.5" ry="2.0" fill="#1870d8" fill-opacity="0.9"/>
<ellipse cx="469.6" cy="93.7" rx="0.5" ry="1.5" fill="#10c048" fill-opacity="0.9"/>
<ellipse cx="469.9" cy="193.6" rx="0.9" ry="1.1" fill="#10c048" fill-opacity="0.9"/>
<ellipse cx="435.6" cy="86.2" rx="0.4" ry="1.2" fill="#10c048" fill-opacity="0.9"/>
<ellipse cx="469.8" cy="304.3" rx="0.8" ry="2.2" fill="#10c048" fill-opacity="0.9"/>
<ellipse cx="468.3" cy="216.9" rx="0.7" ry="2.1" fill="#10c048" fill-opacity="0.9"/>
<ellipse cx="435.2" cy="113.5" rx="0.4" ry="1.7" fill="#10c048" fill-opacity="0.9"/>
<ellipse cx="435.3" cy="229.1" rx="0.4" ry="1.6" fill="#10c048" fill-opacity="0.9"/>
<ellipse cx="467.9" cy="281.7" rx="0.8" ry="2.1" fill="#10c048" fill-opacity="0.9"/>
<ellipse cx="437.0" cy="215.1" rx="0.9" ry="0.8" fill="#1870d8" fill-opacity="0.9"/>
<ellipse cx="436.3" cy="7.3" rx="0.7" ry="1.7" fill="#1870d8" fill-opacity="0.9"/>
<ellipse cx="437.3" cy="200.9" rx="0.8" ry="1.3" fill="#1870d8" fill-opacity="0.9"/>
<ellipse cx="468.8" cy="182.8" rx="0.4" ry="1.9" fill="#1a8a30" fill-opacity="0.9"/>
<ellipse cx="435.7" cy="189.1" rx="0.9" ry="1.0" fill="#10c048" fill-opacity="0.9"/>
<ellipse cx="468.6" cy="207.3" rx="0.6" ry="1.0" fill="#10c048" fill-opacity="0.9"/>
<ellipse cx="467.8" cy="163.4" rx="0.7" ry="1.4" fill="#d8c014" fill-opacity="0.9"/>
<ellipse cx="468.1" cy="104.1" rx="0.7" ry="1.9" fill="#10c048" fill-opacity="0.9"/>
<ellipse cx="469.5" cy="64.9" rx="0.7" ry="1.2" fill="#10c048" fill-opacity="0.9"/>
<ellipse cx="436.8" cy="156.6" rx="0.8" ry="2.1" fill="#10c048" fill-opacity="0.9"/>
<ellipse cx="435.7" cy="55.2" rx="0.9" ry="2.0" fill="#d8c014" fill-opacity="0.9"/>
<ellipse cx="436.3" cy="163.9" rx="0.6" ry="0.9" fill="#1a8a30" fill-opacity="0.9"/>
<ellipse cx="434.4" cy="273.2" rx="0.7" ry="1.2" fill="#d8c014" fill-opacity="0.9"/>
<ellipse cx="469.7" cy="8.7" rx="0.5" ry="1.9" fill="#1870d8" fill-opacity="0.9"/>
<ellipse cx="436.7" cy="244.2" rx="0.6" ry="1.7" fill="#10c048" fill-opacity="0.9"/>
<ellipse cx="467.2" cy="252.9" rx="0.5" ry="1.5" fill="#10c048" fill-opacity="0.9"/>
<ellipse cx="435.7" cy="6.1" rx="0.5" ry="1.2" fill="#10c048" fill-opacity="0.9"/>
<ellipse cx="435.9" cy="218.8" rx="0.9" ry="1.0" fill="#1a8a30" fill-opacity="0.9"/>
<ellipse cx="469.4" cy="219.6" rx="0.9" ry="1.8" fill="#1870d8" fill-opacity="0.9"/>
<ellipse cx="436.2" cy="143.3" rx="0.6" ry="1.6" fill="#10c048" fill-opacity="0.9"/>
<ellipse cx="467.3" cy="249.6" rx="0.6" ry="2.2" fill="#1870d8" fill-opacity="0.9"/>
<ellipse cx="436.7" cy="271.1" rx="0.5" ry="2.1" fill="#10c048" fill-opacity="0.9"/>
<ellipse cx="468.5" cy="305.6" rx="0.5" ry="1.8" fill="#d8c014" fill-opacity="0.9"/>
<ellipse cx="434.4" cy="159.2" rx="0.7" ry="1.9" fill="#d8c014" fill-opacity="0.9"/>
<ellipse cx="436.7" cy="11.6" rx="0.6" ry="0.8" fill="#10c048" fill-opacity="0.9"/>
<ellipse cx="467.4" cy="215.5" rx="0.5" ry="1.5" fill="#1870d8" fill-opacity="0.9"/>
<ellipse cx="468.0" cy="263.0" rx="0.7" ry="1.8" fill="#1870d8" fill-opacity="0.9"/>
<ellipse cx="468.4" cy="138.9" rx="0.7" ry="1.5" fill="#1a8a30" fill-opacity="0.9"/>
<ellipse cx="469.2" cy="176.3" rx="0.9" ry="2.0" fill="#1870d8" fill-opacity="0.9"/>
<ellipse cx="469.7" cy="97.1" rx="0.7" ry="1.6" fill="#1a8a30" fill-opacity="0.9"/>
<ellipse cx="435.8" cy="168.8" rx="0.6" ry="1.6" fill="#1a8a30" fill-opacity="0.9"/>
<ellipse cx="435.9" cy="287.0" rx="0.5" ry="0.9" fill="#1a8a30" fill-opacity="0.9"/>
<ellipse cx="435.7" cy="291.2" rx="0.5" ry="1.5" fill="#1870d8" fill-opacity="0.9"/>
<ellipse cx="436.7" cy="137.2" rx="0.7" ry="1.0" fill="#1870d8" fill-opacity="0.9"/>
<ellipse cx="435.1" cy="11.9" rx="0.4" ry="1.0" fill="#10c048" fill-opacity="0.9"/>
<ellipse cx="436.5" cy="90.8" rx="0.7" ry="0.9" fill="#10c048" fill-opacity="0.9"/>
<ellipse cx="468.6" cy="40.8" rx="0.8" ry="1.8" fill="#d8c014" fill-opacity="0.9"/>
<ellipse cx="468.2" cy="10.0" rx="0.7" ry="1.6" fill="#1a8a30" fill-opacity="0.9"/>
<ellipse cx="469.4" cy="168.2" rx="0.8" ry="1.7" fill="#10c048" fill-opacity="0.9"/>
<ellipse cx="467.9" cy="74.9" rx="0.9" ry="1.2" fill="#d8c014" fill-opacity="0.9"/>
<ellipse cx="435.0" cy="288.7" rx="0.8" ry="1.0" fill="#10c048" fill-opacity="0.9"/>
<ellipse cx="435.1" cy="227.9" rx="0.6" ry="2.1" fill="#10c048" fill-opacity="0.9"/>
<ellipse cx="469.5" cy="221.2" rx="0.4" ry="1.6" fill="#10c048" fill-opacity="0.9"/>
<ellipse cx="435.4" cy="257.1" rx="0.7" ry="1.3" fill="#1a8a30" fill-opacity="0.9"/>
<ellipse cx="467.7" cy="260.8" rx="0.5" ry="0.9" fill="#1870d8" fill-opacity="0.9"/>
<ellipse cx="468.4" cy="162.3" rx="0.5" ry="1.0" fill="#10c048" fill-opacity="0.9"/>
<ellipse cx="435.1" cy="51.8" rx="0.7" ry="1.0" fill="#10c048" fill-opacity="0.9"/>
<ellipse cx="469.8" cy="26.8" rx="0.6" ry="1.5" fill="#1870d8" fill-opacity="0.9"/>
<ellipse cx="434.3" cy="189.0" rx="0.8" ry="1.1" fill="#10c048" fill-opacity="0.9"/>
<ellipse cx="435.5" cy="231.8" rx="0.7" ry="0.9" fill="#10c048" fill-opacity="0.9"/>
<ellipse cx="469.8" cy="103.1" rx="0.7" ry="1.1" fill="#1870d8" fill-opacity="0.9"/>
<ellipse cx="467.8" cy="108.4" rx="0.9" ry="1.8" fill="#d8c014" fill-opacity="0.9"/>
<ellipse cx="468.9" cy="255.2" rx="0.8" ry="1.8" fill="#d8c014" fill-opacity="0.9"/>
<ellipse cx="468.9" cy="239.9" rx="0.4" ry="1.3" fill="#10c048" fill-opacity="0.9"/>
<ellipse cx="435.4" cy="6.1" rx="0.4" ry="1.2" fill="#1a8a30" fill-opacity="0.9"/>
<ellipse cx="469.5" cy="95.4" rx="0.7" ry="1.5" fill="#1870d8" fill-opacity="0.9"/>
<ellipse cx="436.2" cy="312.6" rx="0.8" ry="2.2" fill="#10c048" fill-opacity="0.9"/>
<ellipse cx="436.5" cy="193.4" rx="0.6" ry="1.5" fill="#d8c014" fill-opacity="0.9"/>
<ellipse cx="470.1" cy="203.6" rx="0.5" ry="2.1" fill="#d8c014" fill-opacity="0.9"/>
<ellipse cx="467.2" cy="160.1" rx="0.8" ry="0.9" fill="#1a8a30" fill-opacity="0.9"/>
<ellipse cx="435.9" cy="202.5" rx="0.6" ry="2.1" fill="#10c048" fill-opacity="0.9"/>
<ellipse cx="436.9" cy="303.3" rx="0.7" ry="0.9" fill="#1a8a30" fill-opacity="0.9"/>
<ellipse cx="468.5" cy="133.1" rx="0.6" ry="1.5" fill="#1a8a30" fill-opacity="0.9"/>
<ellipse cx="437.1" cy="86.4" rx="0.4" ry="1.9" fill="#d8c014" fill-opacity="0.9"/>
<ellipse cx="468.9" cy="198.9" rx="0.4" ry="1.2" fill="#1870d8" fill-opacity="0.9"/>
<ellipse cx="436.5" cy="183.0" rx="0.4" ry="2.1" fill="#d8c014" fill-opacity="0.9"/>
<ellipse cx="437.2" cy="150.8" rx="0.4" ry="0.9" fill="#10c048" fill-opacity="0.9"/>
<ellipse cx="469.7" cy="284.6" rx="0.7" ry="1.0" fill="#10c048" fill-opacity="0.9"/>
<ellipse cx="469.5" cy="144.0" rx="0.6" ry="1.0" fill="#10c048" fill-opacity="0.9"/>
<ellipse cx="435.6" cy="46.1" rx="0.5" ry="1.6" fill="#1a8a30" fill-opacity="0.9"/>
<ellipse cx="435.9" cy="243.8" rx="0.9" ry="1.8" fill="#10c048" fill-opacity="0.9"/>
<ellipse cx="437.0" cy="38.1" rx="0.7" ry="1.3" fill="#1a8a30" fill-opacity="0.9"/>
<ellipse cx="436.0" cy="215.0" rx="0.5" ry="1.2" fill="#1a8a30" fill-opacity="0.9"/>
<ellipse cx="435.8" cy="297.7" rx="0.8" ry="0.9" fill="#10c048" fill-opacity="0.9"/>
<ellipse cx="435.6" cy="86.7" rx="0.4" ry="1.1" fill="#1a8a30" fill-opacity="0.9"/>
<ellipse cx="437.0" cy="236.9" rx="0.7" ry="1.7" fill="#10c048" fill-opacity="0.9"/>
<ellipse cx="434.9" cy="151.1" rx="0.6" ry="1.0" fill="#d8c014" fill-opacity="0.9"/>
<ellipse cx="468.8" cy="251.3" rx="0.8" ry="1.9" fill="#1a8a30" fill-opacity="0.9"/>
<ellipse cx="435.5" cy="234.3" rx="0.6" ry="1.7" fill="#10c048" fill-opacity="0.9"/>
<ellipse cx="468.5" cy="103.6" rx="0.6" ry="1.3" fill="#10c048" fill-opacity="0.9"/>
<ellipse cx="434.5" cy="273.9" rx="0.6" ry="1.6" fill="#10c048" fill-opacity="0.9"/>
<ellipse cx="467.6" cy="146.4" rx="0.4" ry="1.1" fill="#10c048" fill-opacity="0.9"/>
<ellipse cx="469.2" cy="28.1" rx="0.5" ry="1.0" fill="#d8c014" fill-opacity="0.9"/>
<ellipse cx="435.4" cy="227.7" rx="0.6" ry="1.4" fill="#10c048" fill-opacity="0.9"/>
<ellipse cx="468.0" cy="282.4" rx="0.6" ry="1.9" fill="#d8c014" fill-opacity="0.9"/>
<ellipse cx="435.5" cy="101.2" rx="0.5" ry="1.3" fill="#1a8a30" fill-opacity="0.9"/>
<ellipse cx="435.5" cy="115.4" rx="0.8" ry="1.8" fill="#1870d8" fill-opacity="0.9"/>
<ellipse cx="434.8" cy="123.7" rx="0.7" ry="1.0" fill="#1a8a30" fill-opacity="0.9"/>
<ellipse cx="469.3" cy="275.7" rx="0.5" ry="0.9" fill="#10c048" fill-opacity="0.9"/>
<ellipse cx="434.4" cy="94.5" rx="0.4" ry="1.6" fill="#1870d8" fill-opacity="0.9"/>
<ellipse cx="469.9" cy="28.8" rx="0.8" ry="0.9" fill="#10c048" fill-opacity="0.9"/>
<ellipse cx="467.9" cy="47.4" rx="0.5" ry="1.1" fill="#1870d8" fill-opacity="0.9"/>
<ellipse cx="467.8" cy="164.4" rx="0.6" ry="1.9" fill="#1870d8" fill-opacity="0.9"/>
<ellipse cx="435.8" cy="45.2" rx="0.8" ry="2.1" fill="#10c048" fill-opacity="0.9"/>
<ellipse cx="436.3" cy="258.8" rx="0.8" ry="2.0" fill="#10c048" fill-opacity="0.9"/>
<ellipse cx="468.2" cy="299.5" rx="0.6" ry="0.8" fill="#1a8a30" fill-opacity="0.9"/>
<ellipse cx="437.0" cy="288.9" rx="0.8" ry="2.2" fill="#10c048" fill-opacity="0.9"/>
<ellipse cx="434.9" cy="54.7" rx="0.7" ry="1.2" fill="#1870d8" fill-opacity="0.9"/>
<ellipse cx="467.9" cy="148.9" rx="0.7" ry="1.9" fill="#d8c014" fill-opacity="0.9"/>
<ellipse cx="435.7" cy="22.1" rx="0.6" ry="1.9" fill="#1a8a30" fill-opacity="0.9"/>
<ellipse cx="435.4" cy="64.0" rx="0.5" ry="1.8" fill="#1a8a30" fill-opacity="0.9"/>
<ellipse cx="469.5" cy="72.2" rx="0.6" ry="2.1" fill="#d8c014" fill-opacity="0.9"/>
<ellipse cx="467.3" cy="197.0" rx="0.6" ry="1.2" fill="#1a8a30" fill-opacity="0.9"/>
<ellipse cx="469.1" cy="286.0" rx="0.8" ry="0.9" fill="#1a8a30" fill-opacity="0.9"/>
<ellipse cx="469.4" cy="126.5" rx="0.8" ry="1.3" fill="#10c048" fill-opacity="0.9"/>
<ellipse cx="469.3" cy="162.6" rx="0.7" ry="1.1" fill="#10c048" fill-opacity="0.9"/>
<ellipse cx="435.4" cy="149.2" rx="0.8" ry="1.6" fill="#10c048" fill-opacity="0.9"/>
<ellipse cx="435.3" cy="51.4" rx="0.9" ry="1.9" fill="#d8c014" fill-opacity="0.9"/>
<ellipse cx="436.2" cy="232.6" rx="0.7" ry="1.0" fill="#1a8a30" fill-opacity="0.9"/>
<ellipse cx="467.6" cy="3.2" rx="0.8" ry="0.9" fill="#10c048" fill-opacity="0.9"/>
<ellipse cx="444.2" cy="311.7" rx="0.6" ry="0.8" fill="#c04010" fill-opacity="0.9"/>
<ellipse cx="453.7" cy="4.6" rx="0.6" ry="0.7" fill="#c04010" fill-opacity="0.9"/>
<ellipse cx="462.0" cy="311.9" rx="0.6" ry="0.8" fill="#c04010" fill-opacity="0.9"/>
<ellipse cx="445.6" cy="311.8" rx="1.0" ry="0.4" fill="#c04010" fill-opacity="0.9"/>
<ellipse cx="437.4" cy="309.1" rx="1.0" ry="0.4" fill="#10c048" fill-opacity="0.9"/>
<ellipse cx="447.9" cy="5.1" rx="1.0" ry="0.8" fill="#c04010" fill-opacity="0.9"/>
<ellipse cx="464.2" cy="5.1" rx="0.9" ry="0.9" fill="#1870d8" fill-opacity="0.9"/>
<ellipse cx="460.9" cy="5.7" rx="0.6" ry="0.6" fill="#1870d8" fill-opacity="0.9"/>
<ellipse cx="438.6" cy="310.9" rx="0.8" ry="0.6" fill="#1870d8" fill-opacity="0.9"/>
<ellipse cx="438.3" cy="4.9" rx="0.6" ry="0.4" fill="#d8c014" fill-opacity="0.9"/>
<ellipse cx="450.9" cy="5.1" rx="1.2" ry="0.6" fill="#d8c014" fill-opacity="0.9"/>
<ellipse cx="461.6" cy="4.2" rx="1.0" ry="0.8" fill="#d8c014" fill-opacity="0.9"/>
<ellipse cx="448.2" cy="4.1" rx="0.9" ry="0.6" fill="#c04010" fill-opacity="0.9"/>
<ellipse cx="462.2" cy="3.9" rx="0.7" ry="0.6" fill="#1870d8" fill-opacity="0.9"/>
<ellipse cx="457.4" cy="310.4" rx="1.1" ry="0.7" fill="#1870d8" fill-opacity="0.9"/>
<ellipse cx="440.3" cy="5.2" rx="0.9" ry="0.7" fill="#1870d8" fill-opacity="0.9"/>
<ellipse cx="454.8" cy="3.8" rx="0.9" ry="0.5" fill="#10c048" fill-opacity="0.9"/>
<ellipse cx="437.7" cy="309.5" rx="0.6" ry="0.8" fill="#1870d8" fill-opacity="0.9"/>
<ellipse cx="444.1" cy="5.5" rx="1.1" ry="0.7" fill="#d8c014" fill-opacity="0.9"/>
<ellipse cx="454.3" cy="310.9" rx="0.6" ry="0.8" fill="#d8c014" fill-opacity="0.9"/>
<ellipse cx="444.8" cy="311.0" rx="0.6" ry="0.7" fill="#d8c014" fill-opacity="0.9"/>
<ellipse cx="437.5" cy="3.4" rx="1.0" ry="0.8" fill="#1870d8" fill-opacity="0.9"/>
<ellipse cx="466.3" cy="4.8" rx="0.6" ry="0.6" fill="#d8c014" fill-opacity="0.9"/>
<ellipse cx="439.8" cy="4.3" rx="0.9" ry="0.5" fill="#1870d8" fill-opacity="0.9"/>
<ellipse cx="454.6" cy="4.1" rx="0.8" ry="0.6" fill="#d8c014" fill-opacity="0.9"/>
<ellipse cx="438.4" cy="308.1" rx="0.8" ry="0.9" fill="#1870d8" fill-opacity="0.9"/>
<ellipse cx="464.0" cy="310.3" rx="0.9" ry="0.9" fill="#10c048" fill-opacity="0.9"/>
<ellipse cx="453.1" cy="4.6" rx="1.1" ry="0.5" fill="#1870d8" fill-opacity="0.9"/>
<ellipse cx="456.2" cy="310.4" rx="1.1" ry="0.8" fill="#1870d8" fill-opacity="0.9"/>
<ellipse cx="443.3" cy="311.0" rx="0.8" ry="0.5" fill="#10c048" fill-opacity="0.9"/>
<ellipse cx="466.5" cy="4.7" rx="1.2" ry="0.8" fill="#10c048" fill-opacity="0.9"/>
<ellipse cx="465.1" cy="4.2" rx="1.0" ry="0.6" fill="#d8c014" fill-opacity="0.9"/>
<ellipse cx="439.1" cy="3.5" rx="1.1" ry="0.7" fill="#10c048" fill-opacity="0.9"/>
<ellipse cx="450.6" cy="4.0" rx="0.6" ry="0.6" fill="#1870d8" fill-opacity="0.9"/>
<ellipse cx="450.5" cy="4.6" rx="0.7" ry="0.6" fill="#10c048" fill-opacity="0.9"/>
<ellipse cx="445.7" cy="311.5" rx="0.6" ry="0.8" fill="#d8c014" fill-opacity="0.9"/>
<ellipse cx="458.9" cy="310.7" rx="0.5" ry="0.7" fill="#c04010" fill-opacity="0.9"/>
<ellipse cx="459.1" cy="4.7" rx="1.2" ry="0.9" fill="#d8c014" fill-opacity="0.9"/>
<ellipse cx="457.4" cy="308.4" rx="1.0" ry="0.5" fill="#c04010" fill-opacity="0.9"/>
<ellipse cx="459.0" cy="5.6" rx="0.7" ry="0.6" fill="#d8c014" fill-opacity="0.9"/>
<polygon points="437.0,16.0 441.5,14.0 450.0,29.0 446.5,33.0" fill="#1870d8" fill-opacity="1.0"/>
<polygon points="467.5,16.0 463.0,14.0 454.5,29.0 458.0,33.0" fill="#1870d8" fill-opacity="1.0"/>
<polygon points="438.0,7.0 443.0,7.0 443.0,9.0 440.0,9.0 440.0,13.0 438.0,13.0" fill="#d8c014" fill-opacity="1.0"/>
<polygon points="466.0,7.0 461.0,7.0 461.0,9.0 464.0,9.0 464.0,13.0 466.0,13.0" fill="#d8c014" fill-opacity="1.0"/>
<ellipse cx="448.0" cy="15.5" rx="1.7" ry="2.4" fill="#d8c014" fill-opacity="1.0"/>
<ellipse cx="455.7" cy="15.5" rx="1.7" ry="2.4" fill="#d8c014" fill-opacity="1.0"/>
<ellipse cx="448.5" cy="30.5" rx="1.3" ry="2.0" fill="#d8c014" fill-opacity="1.0"/>
<ellipse cx="455.5" cy="30.5" rx="1.3" ry="2.0" fill="#d8c014" fill-opacity="1.0"/>
<ellipse cx="452.5" cy="10.5" rx="5.5" ry="5.0" fill="#14c850" fill-opacity="1.0"/>
<ellipse cx="452.5" cy="10.5" rx="5.5" ry="5" fill="none" stroke="#08140c" stroke-width="0.6" stroke-opacity="0.7"/>
<ellipse cx="437.4" cy="23.5" rx="1.0" ry="8.5" fill="#d8c014" fill-opacity="1.0"/>
<ellipse cx="467.2" cy="23.5" rx="1.0" ry="8.5" fill="#d8c014" fill-opacity="1.0"/>
<polygon points="437.0,33.0 441.0,35.0 441.0,48.0 437.0,46.0" fill="#1870d8" fill-opacity="1.0"/>
<polygon points="467.0,33.0 463.0,35.0 463.0,48.0 467.0,46.0" fill="#1870d8" fill-opacity="1.0"/>
<ellipse cx="438.2" cy="64.0" rx="1.4" ry="8.0" fill="#d8c014" fill-opacity="1.0"/>
<ellipse cx="444.6" cy="78.5" rx="1.4" ry="18.5" fill="#d8c014" fill-opacity="1.0"/>
<ellipse cx="459.8" cy="78.5" rx="1.4" ry="18.5" fill="#d8c014" fill-opacity="1.0"/>
<ellipse cx="466.2" cy="65.0" rx="1.4" ry="7.0" fill="#d8c014" fill-opacity="1.0"/>
<ellipse cx="435.8" cy="65.0" rx="0.9" ry="13.0" fill="#1870d8" fill-opacity="1.0"/>
<ellipse cx="468.6" cy="65.0" rx="0.9" ry="13.0" fill="#1870d8" fill-opacity="1.0"/>
<ellipse cx="448.2" cy="66.0" rx="1.0" ry="8.0" fill="#1870d8" fill-opacity="1.0" transform="rotate(3.576334374997351 448.2 66.0)"/>
<ellipse cx="456.2" cy="66.0" rx="1.0" ry="8.0" fill="#1870d8" fill-opacity="1.0" transform="rotate(-3.576334374997351 456.2 66.0)"/>
<ellipse cx="441.0" cy="62.5" rx="0.6" ry="17.5" fill="#08140c" fill-opacity="0.7"/>
<ellipse cx="463.0" cy="62.5" rx="0.6" ry="17.5" fill="#08140c" fill-opacity="0.7"/>
<ellipse cx="435.0" cy="90.5" rx="0.8" ry="5.5" fill="#d8c014" fill-opacity="1.0"/>
<ellipse cx="469.6" cy="92.5" rx="0.8" ry="7.5" fill="#d8c014" fill-opacity="1.0"/>
<polygon points="448.0,98.0 451.5,100.0 446.0,132.0 442.0,131.0" fill="#1870d8" fill-opacity="1.0"/>
<polygon points="457.0,98.0 453.5,100.0 459.0,132.0 463.0,131.0" fill="#1870d8" fill-opacity="1.0"/>
<ellipse cx="439.0" cy="112.5" rx="1.2" ry="17.5" fill="#08140c" fill-opacity="0.55"/>
<ellipse cx="465.0" cy="112.5" rx="1.2" ry="17.5" fill="#08140c" fill-opacity="0.55"/>
<polygon points="436.5,130.0 446.0,128.0 448.0,150.0 447.0,166.0 437.0,166.0" fill="#1870d8" fill-opacity="0.45"/>
<polygon points="468.0,130.0 458.5,128.0 456.5,150.0 457.5,166.0 467.5,166.0" fill="#1870d8" fill-opacity="0.45"/>
<ellipse cx="449.3" cy="148.0" rx="1.5" ry="14.0" fill="#d8c014" fill-opacity="1.0"/>
<ellipse cx="456.3" cy="148.0" rx="1.5" ry="14.0" fill="#d8c014" fill-opacity="1.0"/>
<ellipse cx="436.2" cy="156.0" rx="0.9" ry="16.0" fill="#d8c014" fill-opacity="1.0"/>
<ellipse cx="469.0" cy="156.0" rx="0.9" ry="16.0" fill="#d8c014" fill-opacity="1.0"/>
<polygon points="443.5,160.0 449.0,164.0 443.0,206.0 437.5,204.0" fill="#1870d8" fill-opacity="1.0"/>
<polygon points="461.0,160.0 455.5,164.0 461.5,206.0 467.0,204.0" fill="#1870d8" fill-opacity="1.0"/>
<ellipse cx="440.3" cy="184.0" rx="1.5" ry="14.0" fill="#d8c014" fill-opacity="1.0"/>
<ellipse cx="465.0" cy="186.5" rx="1.5" ry="14.5" fill="#d8c014" fill-opacity="1.0"/>
<ellipse cx="445.2" cy="220.0" rx="1.5" ry="16.0" fill="#d8c014" fill-opacity="1.0"/>
<ellipse cx="460.4" cy="223.0" rx="1.5" ry="17.0" fill="#d8c014" fill-opacity="1.0"/>
<ellipse cx="436.0" cy="209.0" rx="1.0" ry="13.0" fill="#1870d8" fill-opacity="1.0"/>
<ellipse cx="468.6" cy="209.0" rx="1.0" ry="13.0" fill="#1870d8" fill-opacity="1.0"/>
<ellipse cx="438.2" cy="245.0" rx="1.0" ry="19.0" fill="#d8c014" fill-opacity="1.0"/>
<ellipse cx="467.2" cy="245.0" rx="1.0" ry="19.0" fill="#d8c014" fill-opacity="1.0"/>
<ellipse cx="449.3" cy="241.0" rx="1.4" ry="3.2" fill="#d8c014" fill-opacity="1.0"/>
<ellipse cx="456.9" cy="241.0" rx="1.4" ry="3.2" fill="#d8c014" fill-opacity="1.0"/>
<ellipse cx="445.5" cy="256.5" rx="1.0" ry="8.5" fill="#d8c014" fill-opacity="1.0"/>
<ellipse cx="460.0" cy="256.5" rx="1.0" ry="8.5" fill="#d8c014" fill-opacity="1.0"/>
<polygon points="440.0,224.0 444.0,226.0 444.0,240.0 440.0,238.0" fill="#1870d8" fill-opacity="1.0"/>
<polygon points="465.0,224.0 461.0,226.0 461.0,240.0 465.0,238.0" fill="#1870d8" fill-opacity="1.0"/>
<polygon points="445.5,264.0 451.0,264.0 451.0,272.0 449.5,283.0 447.5,276.0" fill="#d8c014" fill-opacity="1.0"/>
<polygon points="461.0,264.0 455.5,264.0 455.5,272.0 457.0,283.0 459.0,276.0" fill="#d8c014" fill-opacity="1.0"/>
<polygon points="437.5,272.0 444.5,270.0 445.0,283.0 437.5,283.0" fill="#1870d8" fill-opacity="1.0"/>
<polygon points="468.0,272.0 461.0,270.0 460.5,283.0 468.0,283.0" fill="#1870d8" fill-opacity="1.0"/>
<polygon points="445.0,289.0 449.0,288.0 449.0,298.0 445.0,297.0" fill="#1870d8" fill-opacity="1.0"/>
<polygon points="458.0,288.0 462.0,289.0 462.0,297.0 458.0,298.0" fill="#1870d8" fill-opacity="1.0"/>
<polygon points="446.0,300.0 452.0,300.0 452.0,307.0 446.0,307.0" fill="#1870d8" fill-opacity="1.0"/>
<polygon points="455.0,300.0 461.0,300.0 461.0,307.0 455.0,307.0" fill="#1870d8" fill-opacity="1.0"/>
<ellipse cx="440.0" cy="303.0" rx="1.5" ry="2.5" fill="#d8c014" fill-opacity="1.0"/>
<ellipse cx="464.5" cy="300.0" rx="1.5" ry="2.5" fill="#d8c014" fill-opacity="1.0"/>
<ellipse cx="458.3" cy="87.9" rx="0.9" ry="1.8" fill="#10c048" fill-opacity="0.75"/>
<ellipse cx="446.3" cy="105.6" rx="0.9" ry="1.4" fill="#1870d8" fill-opacity="0.75"/>
<ellipse cx="446.5" cy="255.8" rx="0.7" ry="2.0" fill="#10c048" fill-opacity="0.75"/>
<ellipse cx="440.4" cy="268.7" rx="1.1" ry="1.1" fill="#d8c014" fill-opacity="0.75"/>
<ellipse cx="463.9" cy="44.4" rx="0.8" ry="1.7" fill="#0a9a3a" fill-opacity="0.75"/>
<ellipse cx="454.2" cy="80.6" rx="0.6" ry="1.4" fill="#10c048" fill-opacity="0.75"/>
<ellipse cx="453.6" cy="85.6" rx="1.1" ry="1.1" fill="#10c048" fill-opacity="0.75"/>
<ellipse cx="451.1" cy="215.3" rx="0.5" ry="2.4" fill="#d8c014" fill-opacity="0.75"/>
<ellipse cx="439.5" cy="57.5" rx="0.7" ry="1.8" fill="#0a9a3a" fill-opacity="0.75"/>
<ellipse cx="438.7" cy="109.8" rx="0.9" ry="2.2" fill="#10c048" fill-opacity="0.75"/>
<ellipse cx="441.0" cy="142.9" rx="0.8" ry="1.4" fill="#d8c014" fill-opacity="0.75"/>
<ellipse cx="458.4" cy="208.6" rx="0.8" ry="1.4" fill="#0a9a3a" fill-opacity="0.75"/>
<ellipse cx="454.5" cy="157.5" rx="0.6" ry="2.6" fill="#1870d8" fill-opacity="0.75"/>
<ellipse cx="439.3" cy="145.8" rx="0.7" ry="2.0" fill="#10c048" fill-opacity="0.75"/>
<ellipse cx="455.3" cy="228.1" rx="0.9" ry="2.4" fill="#d8c014" fill-opacity="0.75"/>
<ellipse cx="438.7" cy="69.1" rx="0.8" ry="1.9" fill="#10c048" fill-opacity="0.75"/>
<ellipse cx="460.6" cy="97.5" rx="0.5" ry="1.7" fill="#10c048" fill-opacity="0.75"/>
<ellipse cx="457.8" cy="231.2" rx="1.0" ry="1.8" fill="#0a9a3a" fill-opacity="0.75"/>
<ellipse cx="456.5" cy="160.1" rx="0.7" ry="1.3" fill="#d8c014" fill-opacity="0.75"/>
<ellipse cx="457.7" cy="233.7" rx="0.5" ry="1.7" fill="#d8c014" fill-opacity="0.75"/>
<ellipse cx="448.3" cy="92.5" rx="0.6" ry="2.2" fill="#1870d8" fill-opacity="0.75"/>
<ellipse cx="455.1" cy="73.7" rx="0.8" ry="2.6" fill="#d8c014" fill-opacity="0.75"/>
<ellipse cx="437.9" cy="137.0" rx="0.6" ry="1.9" fill="#10c048" fill-opacity="0.75"/>
<ellipse cx="451.4" cy="257.8" rx="0.9" ry="2.1" fill="#1870d8" fill-opacity="0.75"/>
<ellipse cx="465.9" cy="183.5" rx="0.7" ry="1.9" fill="#0a9a3a" fill-opacity="0.75"/>
<ellipse cx="444.8" cy="148.9" rx="0.7" ry="1.5" fill="#10c048" fill-opacity="0.75"/>
<ellipse cx="466.1" cy="183.2" rx="0.6" ry="1.9" fill="#1870d8" fill-opacity="0.75"/>
<ellipse cx="466.4" cy="212.3" rx="0.8" ry="1.6" fill="#10c048" fill-opacity="0.75"/>
<ellipse cx="462.1" cy="130.4" rx="0.6" ry="1.6" fill="#1870d8" fill-opacity="0.75"/>
<ellipse cx="443.1" cy="169.1" rx="0.8" ry="1.6" fill="#10c048" fill-opacity="0.75"/>
<ellipse cx="454.9" cy="217.4" rx="0.8" ry="2.6" fill="#d8c014" fill-opacity="0.75"/>
<ellipse cx="457.4" cy="241.1" rx="0.8" ry="1.7" fill="#10c048" fill-opacity="0.75"/>
<ellipse cx="439.2" cy="106.3" rx="0.9" ry="1.8" fill="#0a9a3a" fill-opacity="0.75"/>
<ellipse cx="459.2" cy="160.5" rx="0.7" ry="1.6" fill="#10c048" fill-opacity="0.75"/>
<ellipse cx="442.2" cy="258.0" rx="0.6" ry="1.4" fill="#0a9a3a" fill-opacity="0.75"/>
<ellipse cx="462.0" cy="70.2" rx="1.0" ry="1.7" fill="#0a9a3a" fill-opacity="0.75"/>
<ellipse cx="462.4" cy="130.4" rx="1.0" ry="1.8" fill="#0a9a3a" fill-opacity="0.75"/>
<ellipse cx="439.4" cy="133.3" rx="0.8" ry="1.3" fill="#10c048" fill-opacity="0.75"/>
<ellipse cx="452.6" cy="72.1" rx="0.7" ry="1.7" fill="#10c048" fill-opacity="0.75"/>
<ellipse cx="453.5" cy="74.1" rx="0.7" ry="1.7" fill="#0a9a3a" fill-opacity="0.75"/>
<ellipse cx="448.7" cy="245.1" rx="0.8" ry="1.7" fill="#0a9a3a" fill-opacity="0.75"/>
<ellipse cx="441.7" cy="161.6" rx="0.6" ry="1.5" fill="#0a9a3a" fill-opacity="0.75"/>
<ellipse cx="447.7" cy="92.4" rx="1.0" ry="2.2" fill="#1870d8" fill-opacity="0.75"/>
<ellipse cx="451.7" cy="45.4" rx="0.9" ry="1.1" fill="#0a9a3a" fill-opacity="0.75"/>
<ellipse cx="462.4" cy="171.1" rx="0.9" ry="2.5" fill="#0a9a3a" fill-opacity="0.75"/>
<ellipse cx="462.8" cy="96.7" rx="0.6" ry="1.7" fill="#0a9a3a" fill-opacity="0.75"/>
<ellipse cx="449.1" cy="56.6" rx="1.1" ry="1.5" fill="#d8c014" fill-opacity="0.75"/>
<ellipse cx="458.1" cy="93.7" rx="0.6" ry="2.2" fill="#d8c014" fill-opacity="0.75"/>
<ellipse cx="447.9" cy="206.5" rx="0.9" ry="2.5" fill="#1870d8" fill-opacity="0.75"/>
<ellipse cx="461.0" cy="152.7" rx="0.9" ry="1.9" fill="#0a9a3a" fill-opacity="0.75"/>
<ellipse cx="458.0" cy="48.1" rx="0.6" ry="2.5" fill="#d8c014" fill-opacity="0.75"/>
<ellipse cx="464.1" cy="105.3" rx="0.8" ry="1.9" fill="#d8c014" fill-opacity="0.75"/>
<ellipse cx="451.3" cy="117.6" rx="0.5" ry="1.1" fill="#0a9a3a" fill-opacity="0.75"/>
<ellipse cx="447.1" cy="128.6" rx="0.7" ry="2.1" fill="#0a9a3a" fill-opacity="0.75"/>
<ellipse cx="443.2" cy="150.6" rx="1.1" ry="1.6" fill="#0a9a3a" fill-opacity="0.75"/>
<ellipse cx="454.4" cy="259.4" rx="0.9" ry="2.0" fill="#1870d8" fill-opacity="0.75"/>
<ellipse cx="449.6" cy="138.3" rx="0.5" ry="1.7" fill="#0a9a3a" fill-opacity="0.75"/>
<ellipse cx="450.7" cy="264.9" rx="0.5" ry="1.2" fill="#d8c014" fill-opacity="0.75"/>
<ellipse cx="452.4" cy="113.7" rx="0.8" ry="1.0" fill="#0a9a3a" fill-opacity="0.75"/>
<ellipse cx="455.2" cy="104.8" rx="0.9" ry="1.4" fill="#0a9a3a" fill-opacity="0.75"/>
<ellipse cx="437.8" cy="167.8" rx="0.5" ry="1.9" fill="#d8c014" fill-opacity="0.75"/>
<ellipse cx="462.3" cy="218.7" rx="0.9" ry="1.9" fill="#1870d8" fill-opacity="0.75"/>
<ellipse cx="461.7" cy="265.4" rx="0.7" ry="1.2" fill="#0a9a3a" fill-opacity="0.75"/>
<ellipse cx="438.4" cy="227.9" rx="0.9" ry="2.1" fill="#10c048" fill-opacity="0.75"/>
<ellipse cx="465.6" cy="232.2" rx="0.7" ry="2.1" fill="#10c048" fill-opacity="0.75"/>
<ellipse cx="461.0" cy="110.3" rx="0.7" ry="2.2" fill="#d8c014" fill-opacity="0.75"/>
<ellipse cx="453.2" cy="97.3" rx="0.7" ry="2.1" fill="#10c048" fill-opacity="0.75"/>
<ellipse cx="464.2" cy="212.3" rx="1.1" ry="2.3" fill="#1870d8" fill-opacity="0.75"/>
<ellipse cx="463.3" cy="114.1" rx="0.8" ry="2.1" fill="#d8c014" fill-opacity="0.75"/>
<ellipse cx="439.0" cy="185.6" rx="1.0" ry="1.1" fill="#d8c014" fill-opacity="0.75"/>
<ellipse cx="445.1" cy="159.4" rx="0.7" ry="2.0" fill="#d8c014" fill-opacity="0.75"/>
<ellipse cx="448.4" cy="199.7" rx="0.7" ry="2.2" fill="#10c048" fill-opacity="0.75"/>
<ellipse cx="462.1" cy="233.2" rx="0.9" ry="1.2" fill="#d8c014" fill-opacity="0.75"/>
<ellipse cx="459.1" cy="104.6" rx="0.6" ry="1.6" fill="#10c048" fill-opacity="0.75"/>
<ellipse cx="457.1" cy="95.9" rx="1.1" ry="1.8" fill="#10c048" fill-opacity="0.75"/>
<ellipse cx="457.8" cy="224.5" rx="0.7" ry="1.4" fill="#10c048" fill-opacity="0.75"/>
<ellipse cx="445.1" cy="195.8" rx="1.1" ry="2.6" fill="#d8c014" fill-opacity="0.75"/>
<ellipse cx="439.2" cy="206.7" rx="1.0" ry="1.3" fill="#1870d8" fill-opacity="0.75"/>
<ellipse cx="448.1" cy="166.5" rx="0.7" ry="2.4" fill="#1870d8" fill-opacity="0.75"/>
<ellipse cx="461.8" cy="239.4" rx="0.7" ry="1.5" fill="#10c048" fill-opacity="0.75"/>
<ellipse cx="460.9" cy="235.5" rx="0.6" ry="2.2" fill="#0a9a3a" fill-opacity="0.75"/>
<ellipse cx="449.6" cy="75.4" rx="0.9" ry="1.3" fill="#d8c014" fill-opacity="0.75"/>
<ellipse cx="445.9" cy="242.0" rx="0.6" ry="1.2" fill="#d8c014" fill-opacity="0.75"/>
<ellipse cx="464.7" cy="100.6" rx="0.8" ry="1.2" fill="#d8c014" fill-opacity="0.75"/>
<ellipse cx="463.3" cy="104.9" rx="0.7" ry="1.6" fill="#10c048" fill-opacity="0.75"/>
<ellipse cx="447.1" cy="61.4" rx="0.7" ry="1.4" fill="#10c048" fill-opacity="0.75"/>
<ellipse cx="439.3" cy="57.6" rx="0.9" ry="1.0" fill="#0a9a3a" fill-opacity="0.75"/>
<ellipse cx="447.5" cy="74.9" rx="1.1" ry="1.7" fill="#10c048" fill-opacity="0.75"/>
<ellipse cx="438.7" cy="123.6" rx="0.8" ry="1.3" fill="#d8c014" fill-opacity="0.75"/>
<ellipse cx="455.6" cy="232.9" rx="0.7" ry="2.5" fill="#0a9a3a" fill-opacity="0.75"/>
<line x1="467.4" y1="139.7" x2="467.3" y2="143.7" stroke="#08140c" stroke-width="0.65" stroke-opacity="0.6"/>
<line x1="441.1" y1="209.1" x2="441.5" y2="211.4" stroke="#08140c" stroke-width="0.65" stroke-opacity="0.6"/>
<line x1="446.3" y1="161.0" x2="446.2" y2="162.5" stroke="#08140c" stroke-width="0.65" stroke-opacity="0.6"/>
<line x1="463.8" y1="249.7" x2="463.6" y2="253.5" stroke="#08140c" stroke-width="0.65" stroke-opacity="0.6"/>
<line x1="446.3" y1="166.1" x2="446.9" y2="169.6" stroke="#08140c" stroke-width="0.65" stroke-opacity="0.6"/>
<line x1="451.6" y1="258.6" x2="451.7" y2="261.3" stroke="#08140c" stroke-width="0.65" stroke-opacity="0.6"/>
<line x1="466.5" y1="224.0" x2="468.0" y2="226.6" stroke="#08140c" stroke-width="0.65" stroke-opacity="0.6"/>
<line x1="448.0" y1="198.1" x2="449.3" y2="200.3" stroke="#08140c" stroke-width="0.65" stroke-opacity="0.6"/>
<line x1="464.6" y1="107.2" x2="464.3" y2="110.9" stroke="#08140c" stroke-width="0.65" stroke-opacity="0.6"/>
<line x1="437.5" y1="60.0" x2="437.3" y2="61.8" stroke="#08140c" stroke-width="0.65" stroke-opacity="0.6"/>
<line x1="467.5" y1="157.5" x2="468.8" y2="159.8" stroke="#08140c" stroke-width="0.65" stroke-opacity="0.6"/>
<line x1="462.7" y1="235.1" x2="462.5" y2="236.7" stroke="#08140c" stroke-width="0.65" stroke-opacity="0.6"/>
<line x1="467.1" y1="135.7" x2="466.7" y2="140.1" stroke="#08140c" stroke-width="0.65" stroke-opacity="0.6"/>
<line x1="460.8" y1="273.0" x2="461.5" y2="276.8" stroke="#08140c" stroke-width="0.65" stroke-opacity="0.6"/>
<line x1="466.0" y1="103.4" x2="467.0" y2="105.2" stroke="#08140c" stroke-width="0.65" stroke-opacity="0.6"/>
<line x1="437.1" y1="225.7" x2="437.0" y2="229.2" stroke="#08140c" stroke-width="0.65" stroke-opacity="0.6"/>
<line x1="465.9" y1="263.5" x2="466.0" y2="266.9" stroke="#08140c" stroke-width="0.65" stroke-opacity="0.6"/>
<line x1="465.3" y1="43.2" x2="465.2" y2="46.9" stroke="#08140c" stroke-width="0.65" stroke-opacity="0.6"/>
<line x1="457.3" y1="132.5" x2="457.1" y2="135.2" stroke="#08140c" stroke-width="0.65" stroke-opacity="0.6"/>
<line x1="439.5" y1="165.2" x2="440.9" y2="167.6" stroke="#08140c" stroke-width="0.65" stroke-opacity="0.6"/>
<line x1="455.1" y1="286.1" x2="454.1" y2="287.8" stroke="#08140c" stroke-width="0.65" stroke-opacity="0.6"/>
<line x1="438.1" y1="227.7" x2="435.8" y2="231.5" stroke="#08140c" stroke-width="0.65" stroke-opacity="0.6"/>
<line x1="463.8" y1="40.1" x2="463.8" y2="42.2" stroke="#08140c" stroke-width="0.65" stroke-opacity="0.6"/>
<line x1="441.2" y1="41.1" x2="442.1" y2="42.7" stroke="#08140c" stroke-width="0.65" stroke-opacity="0.6"/>
<line x1="438.8" y1="267.7" x2="440.6" y2="270.8" stroke="#08140c" stroke-width="0.65" stroke-opacity="0.6"/>
<line x1="447.5" y1="69.0" x2="446.8" y2="70.3" stroke="#08140c" stroke-width="0.65" stroke-opacity="0.6"/>
<line x1="438.2" y1="39.0" x2="436.8" y2="41.4" stroke="#08140c" stroke-width="0.65" stroke-opacity="0.6"/>
<line x1="439.0" y1="155.7" x2="439.1" y2="157.4" stroke="#08140c" stroke-width="0.65" stroke-opacity="0.6"/>
<line x1="438.8" y1="289.1" x2="438.5" y2="293.0" stroke="#08140c" stroke-width="0.65" stroke-opacity="0.6"/>
<line x1="437.0" y1="256.8" x2="436.8" y2="258.6" stroke="#08140c" stroke-width="0.65" stroke-opacity="0.6"/>
<line x1="437.8" y1="211.2" x2="436.3" y2="213.7" stroke="#08140c" stroke-width="0.65" stroke-opacity="0.6"/>
<line x1="466.6" y1="269.6" x2="466.2" y2="273.3" stroke="#08140c" stroke-width="0.65" stroke-opacity="0.6"/>
<line x1="467.4" y1="120.2" x2="467.3" y2="124.1" stroke="#08140c" stroke-width="0.65" stroke-opacity="0.6"/>
<line x1="439.9" y1="215.1" x2="439.8" y2="217.2" stroke="#08140c" stroke-width="0.65" stroke-opacity="0.6"/>
<line x1="467.4" y1="41.6" x2="467.5" y2="45.9" stroke="#08140c" stroke-width="0.65" stroke-opacity="0.6"/>
<line x1="446.3" y1="9.2" x2="446.1" y2="10.9" stroke="#08140c" stroke-width="0.65" stroke-opacity="0.6"/>
<line x1="447.9" y1="99.8" x2="447.7" y2="102.5" stroke="#08140c" stroke-width="0.65" stroke-opacity="0.6"/>
<line x1="465.7" y1="90.5" x2="466.1" y2="92.4" stroke="#08140c" stroke-width="0.65" stroke-opacity="0.6"/>
<line x1="447.5" y1="217.7" x2="447.5" y2="219.9" stroke="#08140c" stroke-width="0.65" stroke-opacity="0.6"/>
<line x1="437.4" y1="209.7" x2="436.0" y2="212.2" stroke="#08140c" stroke-width="0.65" stroke-opacity="0.6"/>
<line x1="464.6" y1="198.6" x2="465.9" y2="200.8" stroke="#08140c" stroke-width="0.65" stroke-opacity="0.6"/>
<line x1="462.8" y1="205.2" x2="462.9" y2="206.7" stroke="#08140c" stroke-width="0.65" stroke-opacity="0.6"/>
<line x1="466.9" y1="123.2" x2="467.3" y2="125.5" stroke="#08140c" stroke-width="0.65" stroke-opacity="0.6"/>
<line x1="463.0" y1="183.9" x2="463.5" y2="187.0" stroke="#08140c" stroke-width="0.65" stroke-opacity="0.6"/>
<line x1="443.2" y1="243.7" x2="443.5" y2="245.2" stroke="#08140c" stroke-width="0.65" stroke-opacity="0.6"/>
<line x1="457.4" y1="109.9" x2="458.1" y2="114.0" stroke="#08140c" stroke-width="0.65" stroke-opacity="0.6"/>
<line x1="441.6" y1="28.5" x2="441.7" y2="30.6" stroke="#08140c" stroke-width="0.65" stroke-opacity="0.6"/>
<line x1="440.2" y1="299.5" x2="437.9" y2="303.4" stroke="#08140c" stroke-width="0.65" stroke-opacity="0.6"/>
<line x1="437.9" y1="305.9" x2="437.1" y2="307.4" stroke="#08140c" stroke-width="0.65" stroke-opacity="0.6"/>
<line x1="461.1" y1="286.2" x2="461.2" y2="289.3" stroke="#08140c" stroke-width="0.65" stroke-opacity="0.6"/>
<line x1="466.9" y1="35.6" x2="467.6" y2="39.4" stroke="#08140c" stroke-width="0.65" stroke-opacity="0.6"/>
<line x1="464.5" y1="205.7" x2="462.3" y2="209.5" stroke="#08140c" stroke-width="0.65" stroke-opacity="0.6"/>
<line x1="440.5" y1="147.3" x2="441.3" y2="148.6" stroke="#08140c" stroke-width="0.65" stroke-opacity="0.6"/>
<line x1="464.4" y1="14.1" x2="464.5" y2="16.6" stroke="#08140c" stroke-width="0.65" stroke-opacity="0.6"/>
<line x1="466.8" y1="239.5" x2="466.9" y2="241.3" stroke="#08140c" stroke-width="0.65" stroke-opacity="0.6"/>
<line x1="438.9" y1="78.1" x2="439.0" y2="81.6" stroke="#08140c" stroke-width="0.65" stroke-opacity="0.6"/>
<line x1="445.9" y1="239.9" x2="444.7" y2="241.8" stroke="#08140c" stroke-width="0.65" stroke-opacity="0.6"/>
<line x1="467.3" y1="183.3" x2="467.6" y2="185.3" stroke="#08140c" stroke-width="0.65" stroke-opacity="0.6"/>
<line x1="463.0" y1="38.1" x2="462.6" y2="42.1" stroke="#08140c" stroke-width="0.65" stroke-opacity="0.6"/>
<line x1="439.6" y1="130.7" x2="439.5" y2="132.3" stroke="#08140c" stroke-width="0.65" stroke-opacity="0.6"/>
<line x1="440.2" y1="227.8" x2="441.5" y2="230.1" stroke="#08140c" stroke-width="0.65" stroke-opacity="0.6"/>
<line x1="437.7" y1="39.9" x2="437.8" y2="42.3" stroke="#08140c" stroke-width="0.65" stroke-opacity="0.6"/>
<line x1="462.9" y1="20.6" x2="463.4" y2="23.3" stroke="#08140c" stroke-width="0.65" stroke-opacity="0.6"/>
<line x1="464.3" y1="105.4" x2="464.2" y2="108.3" stroke="#08140c" stroke-width="0.65" stroke-opacity="0.6"/>
<line x1="454.1" y1="48.1" x2="454.8" y2="52.5" stroke="#08140c" stroke-width="0.65" stroke-opacity="0.6"/>
<line x1="463.9" y1="72.8" x2="463.0" y2="74.3" stroke="#08140c" stroke-width="0.65" stroke-opacity="0.6"/>
<line x1="440.0" y1="21.7" x2="440.7" y2="25.6" stroke="#08140c" stroke-width="0.65" stroke-opacity="0.6"/>
<line x1="438.7" y1="209.2" x2="439.3" y2="212.8" stroke="#08140c" stroke-width="0.65" stroke-opacity="0.6"/>
<line x1="466.4" y1="226.6" x2="466.5" y2="229.2" stroke="#08140c" stroke-width="0.65" stroke-opacity="0.6"/>
<line x1="437.0" y1="184.7" x2="439.2" y2="188.5" stroke="#08140c" stroke-width="0.65" stroke-opacity="0.6"/>
<line x1="458.2" y1="258.7" x2="458.2" y2="260.8" stroke="#08140c" stroke-width="0.65" stroke-opacity="0.6"/>
<line x1="467.0" y1="22.7" x2="467.9" y2="24.2" stroke="#08140c" stroke-width="0.65" stroke-opacity="0.6"/>
<line x1="461.7" y1="289.7" x2="463.4" y2="292.7" stroke="#08140c" stroke-width="0.65" stroke-opacity="0.6"/>
<line x1="438.2" y1="125.7" x2="439.3" y2="127.6" stroke="#08140c" stroke-width="0.65" stroke-opacity="0.6"/>
<line x1="463.5" y1="199.4" x2="462.7" y2="200.8" stroke="#08140c" stroke-width="0.65" stroke-opacity="0.6"/>
<line x1="464.8" y1="198.3" x2="464.8" y2="199.8" stroke="#08140c" stroke-width="0.65" stroke-opacity="0.6"/>
<line x1="454.7" y1="8.5" x2="452.8" y2="11.7" stroke="#08140c" stroke-width="0.65" stroke-opacity="0.6"/>
<line x1="439.9" y1="58.5" x2="439.9" y2="60.3" stroke="#08140c" stroke-width="0.65" stroke-opacity="0.6"/>
<line x1="448.4" y1="141.0" x2="448.9" y2="143.8" stroke="#08140c" stroke-width="0.65" stroke-opacity="0.6"/>
<line x1="441.3" y1="293.6" x2="441.4" y2="296.1" stroke="#08140c" stroke-width="0.65" stroke-opacity="0.6"/>
<line x1="458.5" y1="125.9" x2="458.3" y2="129.4" stroke="#08140c" stroke-width="0.65" stroke-opacity="0.6"/>
<line x1="465.2" y1="70.1" x2="465.3" y2="72.8" stroke="#08140c" stroke-width="0.65" stroke-opacity="0.6"/>
<line x1="466.8" y1="148.4" x2="466.0" y2="149.8" stroke="#08140c" stroke-width="0.65" stroke-opacity="0.6"/>
<line x1="443.0" y1="217.5" x2="441.5" y2="220.1" stroke="#08140c" stroke-width="0.65" stroke-opacity="0.6"/>
<line x1="448.8" y1="240.2" x2="448.7" y2="242.0" stroke="#08140c" stroke-width="0.65" stroke-opacity="0.6"/>
<line x1="460.6" y1="104.0" x2="460.5" y2="105.5" stroke="#08140c" stroke-width="0.65" stroke-opacity="0.6"/>
<line x1="448.4" y1="247.5" x2="446.6" y2="250.6" stroke="#08140c" stroke-width="0.65" stroke-opacity="0.6"/>
<line x1="462.7" y1="114.2" x2="461.1" y2="117.0" stroke="#08140c" stroke-width="0.65" stroke-opacity="0.6"/>
<line x1="449.0" y1="33.9" x2="448.9" y2="36.9" stroke="#08140c" stroke-width="0.65" stroke-opacity="0.6"/>
<line x1="464.7" y1="283.1" x2="466.7" y2="286.5" stroke="#08140c" stroke-width="0.65" stroke-opacity="0.6"/>
<line x1="440.4" y1="174.5" x2="440.5" y2="179.0" stroke="#08140c" stroke-width="0.65" stroke-opacity="0.6"/>
<line x1="451.8" y1="76.2" x2="452.4" y2="79.9" stroke="#08140c" stroke-width="0.65" stroke-opacity="0.6"/>
<line x1="452.2" y1="51.9" x2="454.5" y2="55.7" stroke="#08140c" stroke-width="0.65" stroke-opacity="0.6"/>
<line x1="453.8" y1="106.6" x2="454.8" y2="108.3" stroke="#08140c" stroke-width="0.65" stroke-opacity="0.6"/>
<line x1="439.8" y1="241.9" x2="439.6" y2="244.0" stroke="#08140c" stroke-width="0.65" stroke-opacity="0.6"/>
<line x1="459.5" y1="110.0" x2="459.3" y2="112.0" stroke="#08140c" stroke-width="0.65" stroke-opacity="0.6"/>
<line x1="464.5" y1="283.8" x2="466.3" y2="286.9" stroke="#08140c" stroke-width="0.65" stroke-opacity="0.6"/>
<line x1="463.6" y1="39.9" x2="463.3" y2="42.5" stroke="#08140c" stroke-width="0.65" stroke-opacity="0.6"/>
<line x1="444.6" y1="94.7" x2="444.4" y2="96.9" stroke="#08140c" stroke-width="0.65" stroke-opacity="0.6"/>
<line x1="467.5" y1="289.6" x2="466.5" y2="291.3" stroke="#08140c" stroke-width="0.65" stroke-opacity="0.6"/>
<line x1="441.1" y1="169.8" x2="441.2" y2="173.5" stroke="#08140c" stroke-width="0.65" stroke-opacity="0.6"/>
<line x1="458.4" y1="183.5" x2="460.2" y2="186.4" stroke="#08140c" stroke-width="0.65" stroke-opacity="0.6"/>
<line x1="441.5" y1="151.0" x2="443.3" y2="154.1" stroke="#08140c" stroke-width="0.65" stroke-opacity="0.6"/>
<line x1="465.9" y1="158.4" x2="467.5" y2="161.2" stroke="#08140c" stroke-width="0.65" stroke-opacity="0.6"/>
<line x1="439.1" y1="171.7" x2="439.0" y2="174.9" stroke="#08140c" stroke-width="0.65" stroke-opacity="0.6"/>
<line x1="446.1" y1="7.6" x2="446.9" y2="11.8" stroke="#08140c" stroke-width="0.65" stroke-opacity="0.6"/>
<line x1="438.6" y1="25.2" x2="439.2" y2="28.7" stroke="#08140c" stroke-width="0.65" stroke-opacity="0.6"/>
<line x1="438.9" y1="137.7" x2="439.5" y2="141.2" stroke="#08140c" stroke-width="0.65" stroke-opacity="0.6"/>
<line x1="447.7" y1="156.4" x2="447.6" y2="158.5" stroke="#08140c" stroke-width="0.65" stroke-opacity="0.6"/>
<line x1="466.6" y1="15.7" x2="466.8" y2="20.0" stroke="#08140c" stroke-width="0.65" stroke-opacity="0.6"/>
<line x1="441.3" y1="217.3" x2="441.4" y2="221.6" stroke="#08140c" stroke-width="0.65" stroke-opacity="0.6"/>
<line x1="465.3" y1="264.2" x2="466.0" y2="268.5" stroke="#08140c" stroke-width="0.65" stroke-opacity="0.6"/>
<line x1="461.3" y1="305.6" x2="461.4" y2="308.8" stroke="#08140c" stroke-width="0.65" stroke-opacity="0.6"/>
<line x1="437.6" y1="294.5" x2="437.9" y2="296.0" stroke="#08140c" stroke-width="0.65" stroke-opacity="0.6"/>
<line x1="462.7" y1="16.4" x2="462.5" y2="20.4" stroke="#08140c" stroke-width="0.65" stroke-opacity="0.6"/>
<line x1="462.9" y1="236.6" x2="463.5" y2="240.1" stroke="#08140c" stroke-width="0.65" stroke-opacity="0.6"/>
<line x1="463.6" y1="256.6" x2="465.0" y2="259.0" stroke="#08140c" stroke-width="0.65" stroke-opacity="0.6"/>
<line x1="438.8" y1="85.4" x2="438.9" y2="88.7" stroke="#08140c" stroke-width="0.65" stroke-opacity="0.6"/>
<line x1="452.9" y1="112.3" x2="451.1" y2="115.3" stroke="#08140c" stroke-width="0.65" stroke-opacity="0.6"/>
<line x1="466.3" y1="73.0" x2="466.0" y2="77.3" stroke="#08140c" stroke-width="0.65" stroke-opacity="0.6"/>
<line x1="466.3" y1="178.7" x2="467.1" y2="180.1" stroke="#08140c" stroke-width="0.65" stroke-opacity="0.6"/>
<line x1="438.3" y1="208.9" x2="438.4" y2="212.8" stroke="#08140c" stroke-width="0.65" stroke-opacity="0.6"/>
<line x1="465.1" y1="72.1" x2="464.8" y2="74.8" stroke="#08140c" stroke-width="0.65" stroke-opacity="0.6"/>
<line x1="463.0" y1="306.6" x2="462.9" y2="309.3" stroke="#08140c" stroke-width="0.65" stroke-opacity="0.6"/>
<line x1="447.2" y1="243.8" x2="448.5" y2="246.1" stroke="#08140c" stroke-width="0.65" stroke-opacity="0.6"/>
<line x1="465.9" y1="27.2" x2="466.6" y2="31.6" stroke="#08140c" stroke-width="0.65" stroke-opacity="0.6"/>
<line x1="462.8" y1="281.0" x2="462.7" y2="282.9" stroke="#08140c" stroke-width="0.65" stroke-opacity="0.6"/>
<line x1="466.5" y1="109.3" x2="466.1" y2="113.6" stroke="#08140c" stroke-width="0.65" stroke-opacity="0.6"/>
<line x1="446.6" y1="19.6" x2="446.6" y2="21.8" stroke="#08140c" stroke-width="0.65" stroke-opacity="0.6"/>
<line x1="464.0" y1="224.6" x2="461.8" y2="228.4" stroke="#08140c" stroke-width="0.65" stroke-opacity="0.6"/>
<line x1="440.4" y1="288.3" x2="440.3" y2="290.0" stroke="#08140c" stroke-width="0.65" stroke-opacity="0.6"/>
<line x1="457.6" y1="43.7" x2="457.7" y2="46.2" stroke="#08140c" stroke-width="0.65" stroke-opacity="0.6"/>
<line x1="464.9" y1="235.3" x2="465.4" y2="238.4" stroke="#08140c" stroke-width="0.65" stroke-opacity="0.6"/>
<line x1="467.2" y1="299.3" x2="467.1" y2="303.6" stroke="#08140c" stroke-width="0.65" stroke-opacity="0.6"/>
<line x1="441.7" y1="105.9" x2="443.3" y2="108.6" stroke="#08140c" stroke-width="0.65" stroke-opacity="0.6"/>
<line x1="464.3" y1="186.0" x2="463.0" y2="188.2" stroke="#08140c" stroke-width="0.65" stroke-opacity="0.6"/>
<line x1="442.7" y1="289.8" x2="443.4" y2="294.2" stroke="#08140c" stroke-width="0.65" stroke-opacity="0.6"/>
<line x1="464.9" y1="55.6" x2="464.8" y2="57.6" stroke="#08140c" stroke-width="0.65" stroke-opacity="0.6"/>
<line x1="466.4" y1="14.1" x2="465.0" y2="16.5" stroke="#08140c" stroke-width="0.65" stroke-opacity="0.6"/>
<line x1="438.7" y1="14.2" x2="438.5" y2="16.7" stroke="#08140c" stroke-width="0.65" stroke-opacity="0.6"/>
<line x1="466.3" y1="213.0" x2="466.2" y2="215.2" stroke="#08140c" stroke-width="0.65" stroke-opacity="0.6"/>
<line x1="463.2" y1="135.6" x2="464.8" y2="138.4" stroke="#08140c" stroke-width="0.65" stroke-opacity="0.6"/>
<line x1="441.4" y1="147.2" x2="443.0" y2="150.0" stroke="#08140c" stroke-width="0.65" stroke-opacity="0.6"/>
<line x1="465.6" y1="100.8" x2="464.0" y2="103.5" stroke="#08140c" stroke-width="0.65" stroke-opacity="0.6"/>
<line x1="441.5" y1="196.8" x2="440.8" y2="198.1" stroke="#08140c" stroke-width="0.65" stroke-opacity="0.6"/>
<line x1="452.1" y1="283.4" x2="450.6" y2="286.0" stroke="#08140c" stroke-width="0.65" stroke-opacity="0.6"/>
<line x1="457.2" y1="127.0" x2="457.1" y2="130.0" stroke="#08140c" stroke-width="0.65" stroke-opacity="0.6"/>
<line x1="438.5" y1="102.6" x2="439.1" y2="106.0" stroke="#08140c" stroke-width="0.65" stroke-opacity="0.6"/>
<line x1="466.7" y1="90.8" x2="467.2" y2="93.6" stroke="#08140c" stroke-width="0.65" stroke-opacity="0.6"/>
<line x1="464.7" y1="246.0" x2="464.6" y2="248.3" stroke="#08140c" stroke-width="0.65" stroke-opacity="0.6"/>
<line x1="449.9" y1="173.2" x2="447.8" y2="177.0" stroke="#08140c" stroke-width="0.65" stroke-opacity="0.6"/>
<line x1="441.5" y1="101.5" x2="441.6" y2="105.0" stroke="#08140c" stroke-width="0.65" stroke-opacity="0.6"/>
<line x1="466.5" y1="247.7" x2="466.1" y2="252.1" stroke="#08140c" stroke-width="0.65" stroke-opacity="0.6"/>
<line x1="461.4" y1="220.2" x2="461.0" y2="224.1" stroke="#08140c" stroke-width="0.65" stroke-opacity="0.6"/>
<line x1="439.2" y1="282.5" x2="439.2" y2="284.0" stroke="#08140c" stroke-width="0.65" stroke-opacity="0.6"/>
<line x1="451.3" y1="199.9" x2="449.5" y2="203.0" stroke="#08140c" stroke-width="0.65" stroke-opacity="0.6"/>
<line x1="456.6" y1="26.1" x2="457.3" y2="29.6" stroke="#08140c" stroke-width="0.65" stroke-opacity="0.6"/>
<line x1="465.7" y1="62.5" x2="467.4" y2="65.6" stroke="#08140c" stroke-width="0.65" stroke-opacity="0.6"/>
<line x1="456.0" y1="44.4" x2="456.6" y2="48.0" stroke="#08140c" stroke-width="0.65" stroke-opacity="0.6"/>
<line x1="438.8" y1="177.4" x2="438.7" y2="181.8" stroke="#08140c" stroke-width="0.65" stroke-opacity="0.6"/>
<line x1="443.7" y1="220.0" x2="443.6" y2="221.6" stroke="#08140c" stroke-width="0.65" stroke-opacity="0.6"/>
<line x1="467.0" y1="76.0" x2="467.5" y2="79.3" stroke="#08140c" stroke-width="0.65" stroke-opacity="0.6"/>
<line x1="452.7" y1="101.5" x2="452.5" y2="103.8" stroke="#08140c" stroke-width="0.65" stroke-opacity="0.6"/>
<line x1="438.1" y1="105.9" x2="438.9" y2="110.1" stroke="#08140c" stroke-width="0.65" stroke-opacity="0.6"/>
<line x1="464.5" y1="238.9" x2="465.8" y2="241.1" stroke="#08140c" stroke-width="0.65" stroke-opacity="0.6"/>
<line x1="441.8" y1="265.4" x2="440.2" y2="268.1" stroke="#08140c" stroke-width="0.65" stroke-opacity="0.6"/>
<line x1="453.0" y1="93.2" x2="455.2" y2="97.0" stroke="#08140c" stroke-width="0.65" stroke-opacity="0.6"/>
<line x1="438.4" y1="294.2" x2="438.4" y2="296.6" stroke="#08140c" stroke-width="0.65" stroke-opacity="0.6"/>
<line x1="443.4" y1="282.7" x2="444.1" y2="286.5" stroke="#08140c" stroke-width="0.65" stroke-opacity="0.6"/>
<line x1="464.2" y1="182.6" x2="464.7" y2="185.3" stroke="#08140c" stroke-width="0.65" stroke-opacity="0.6"/>
<line x1="442.6" y1="236.5" x2="442.5" y2="238.1" stroke="#08140c" stroke-width="0.65" stroke-opacity="0.6"/>
<line x1="463.7" y1="87.2" x2="464.3" y2="91.0" stroke="#08140c" stroke-width="0.65" stroke-opacity="0.6"/>
<line x1="450.9" y1="136.5" x2="450.0" y2="138.0" stroke="#08140c" stroke-width="0.65" stroke-opacity="0.6"/>
<line x1="438.1" y1="7.4" x2="438.2" y2="10.3" stroke="#08140c" stroke-width="0.65" stroke-opacity="0.6"/>
<line x1="437.4" y1="127.6" x2="437.3" y2="131.1" stroke="#08140c" stroke-width="0.65" stroke-opacity="0.6"/>
<line x1="449.4" y1="32.9" x2="449.1" y2="36.0" stroke="#08140c" stroke-width="0.65" stroke-opacity="0.6"/>
<line x1="439.2" y1="229.5" x2="439.3" y2="233.2" stroke="#08140c" stroke-width="0.65" stroke-opacity="0.6"/>
<line x1="463.3" y1="302.6" x2="463.2" y2="306.7" stroke="#08140c" stroke-width="0.65" stroke-opacity="0.6"/>
<line x1="466.5" y1="228.4" x2="466.1" y2="232.5" stroke="#08140c" stroke-width="0.65" stroke-opacity="0.6"/>
<line x1="464.1" y1="68.9" x2="463.8" y2="72.3" stroke="#08140c" stroke-width="0.65" stroke-opacity="0.6"/>
<line x1="446.5" y1="193.8" x2="447.9" y2="196.2" stroke="#08140c" stroke-width="0.65" stroke-opacity="0.6"/>
<line x1="439.5" y1="227.2" x2="439.7" y2="230.5" stroke="#08140c" stroke-width="0.65" stroke-opacity="0.6"/>
<line x1="448.4" y1="276.0" x2="446.2" y2="279.9" stroke="#08140c" stroke-width="0.65" stroke-opacity="0.6"/>
<line x1="439.1" y1="74.8" x2="439.2" y2="77.0" stroke="#08140c" stroke-width="0.65" stroke-opacity="0.6"/>
<line x1="457.0" y1="207.3" x2="456.9" y2="210.1" stroke="#08140c" stroke-width="0.65" stroke-opacity="0.6"/>
<line x1="467.2" y1="175.7" x2="465.8" y2="178.0" stroke="#08140c" stroke-width="0.65" stroke-opacity="0.6"/>
<line x1="467.1" y1="73.0" x2="466.9" y2="75.7" stroke="#08140c" stroke-width="0.65" stroke-opacity="0.6"/>
<line x1="450.2" y1="156.1" x2="450.0" y2="157.8" stroke="#08140c" stroke-width="0.65" stroke-opacity="0.6"/>
<line x1="448.9" y1="183.8" x2="450.7" y2="186.9" stroke="#08140c" stroke-width="0.65" stroke-opacity="0.6"/>
<line x1="454.6" y1="82.2" x2="454.8" y2="85.8" stroke="#08140c" stroke-width="0.65" stroke-opacity="0.6"/>
<line x1="467.5" y1="249.6" x2="468.0" y2="252.5" stroke="#08140c" stroke-width="0.65" stroke-opacity="0.6"/>
<line x1="465.0" y1="104.8" x2="462.8" y2="108.5" stroke="#08140c" stroke-width="0.65" stroke-opacity="0.6"/>
<line x1="445.7" y1="248.4" x2="445.5" y2="251.2" stroke="#08140c" stroke-width="0.65" stroke-opacity="0.6"/>
<line x1="465.3" y1="177.5" x2="467.5" y2="181.3" stroke="#08140c" stroke-width="0.65" stroke-opacity="0.6"/>
<line x1="437.1" y1="213.7" x2="435.1" y2="217.2" stroke="#08140c" stroke-width="0.65" stroke-opacity="0.6"/>
<line x1="441.3" y1="180.2" x2="441.4" y2="183.2" stroke="#08140c" stroke-width="0.65" stroke-opacity="0.6"/>
<line x1="466.9" y1="194.6" x2="467.0" y2="198.6" stroke="#08140c" stroke-width="0.65" stroke-opacity="0.6"/>
<line x1="437.7" y1="197.8" x2="437.6" y2="199.3" stroke="#08140c" stroke-width="0.65" stroke-opacity="0.6"/>
<line x1="439.2" y1="206.3" x2="440.4" y2="208.4" stroke="#08140c" stroke-width="0.65" stroke-opacity="0.6"/>
<line x1="464.1" y1="250.1" x2="462.0" y2="253.7" stroke="#08140c" stroke-width="0.65" stroke-opacity="0.6"/>
<line x1="437.7" y1="281.8" x2="439.6" y2="285.2" stroke="#08140c" stroke-width="0.65" stroke-opacity="0.6"/>
<line x1="467.2" y1="73.8" x2="467.3" y2="75.9" stroke="#08140c" stroke-width="0.65" stroke-opacity="0.6"/>
<line x1="463.0" y1="272.6" x2="462.8" y2="274.7" stroke="#08140c" stroke-width="0.65" stroke-opacity="0.6"/>
<line x1="457.7" y1="58.2" x2="457.6" y2="60.8" stroke="#08140c" stroke-width="0.65" stroke-opacity="0.6"/>
<line x1="440.6" y1="150.4" x2="439.8" y2="151.9" stroke="#08140c" stroke-width="0.65" stroke-opacity="0.6"/>
<line x1="438.3" y1="215.4" x2="438.2" y2="217.1" stroke="#08140c" stroke-width="0.65" stroke-opacity="0.6"/>
<line x1="454.8" y1="35.3" x2="455.6" y2="36.8" stroke="#08140c" stroke-width="0.65" stroke-opacity="0.6"/>
<line x1="451.9" y1="166.7" x2="452.4" y2="169.3" stroke="#08140c" stroke-width="0.65" stroke-opacity="0.6"/>
<line x1="464.5" y1="19.9" x2="464.5" y2="21.9" stroke="#08140c" stroke-width="0.65" stroke-opacity="0.6"/>
<line x1="439.1" y1="113.5" x2="438.9" y2="116.1" stroke="#08140c" stroke-width="0.65" stroke-opacity="0.6"/>
<line x1="446.0" y1="11.3" x2="444.7" y2="13.5" stroke="#08140c" stroke-width="0.65" stroke-opacity="0.6"/>
<line x1="445.1" y1="40.7" x2="443.1" y2="44.2" stroke="#08140c" stroke-width="0.65" stroke-opacity="0.6"/>
<line x1="442.6" y1="170.2" x2="442.8" y2="174.3" stroke="#08140c" stroke-width="0.65" stroke-opacity="0.6"/>
<line x1="450.5" y1="222.0" x2="449.4" y2="224.0" stroke="#08140c" stroke-width="0.65" stroke-opacity="0.6"/>
<line x1="438.1" y1="92.2" x2="436.9" y2="94.3" stroke="#08140c" stroke-width="0.65" stroke-opacity="0.6"/>
<line x1="464.5" y1="163.2" x2="464.6" y2="165.8" stroke="#08140c" stroke-width="0.65" stroke-opacity="0.6"/>
<line x1="458.1" y1="230.0" x2="456.7" y2="232.5" stroke="#08140c" stroke-width="0.65" stroke-opacity="0.6"/>
<line x1="443.8" y1="180.8" x2="443.5" y2="184.2" stroke="#08140c" stroke-width="0.65" stroke-opacity="0.6"/>
<line x1="462.7" y1="161.1" x2="464.0" y2="163.2" stroke="#08140c" stroke-width="0.65" stroke-opacity="0.6"/>
<line x1="467.3" y1="29.5" x2="468.1" y2="33.9" stroke="#08140c" stroke-width="0.65" stroke-opacity="0.6"/>
<line x1="461.4" y1="221.1" x2="459.5" y2="224.4" stroke="#08140c" stroke-width="0.65" stroke-opacity="0.6"/>
<line x1="465.7" y1="137.4" x2="465.9" y2="141.2" stroke="#08140c" stroke-width="0.65" stroke-opacity="0.6"/>
<line x1="440.3" y1="208.9" x2="439.3" y2="210.8" stroke="#08140c" stroke-width="0.65" stroke-opacity="0.6"/>
<line x1="461.8" y1="303.5" x2="462.0" y2="307.8" stroke="#08140c" stroke-width="0.65" stroke-opacity="0.6"/>
<line x1="437.9" y1="187.9" x2="439.0" y2="189.8" stroke="#08140c" stroke-width="0.65" stroke-opacity="0.6"/>
<line x1="441.6" y1="299.6" x2="441.4" y2="301.6" stroke="#08140c" stroke-width="0.65" stroke-opacity="0.6"/>
<line x1="459.1" y1="234.2" x2="459.4" y2="235.8" stroke="#08140c" stroke-width="0.65" stroke-opacity="0.6"/>
<line x1="458.8" y1="243.9" x2="458.7" y2="247.3" stroke="#08140c" stroke-width="0.65" stroke-opacity="0.6"/>
<line x1="462.8" y1="248.1" x2="462.7" y2="252.3" stroke="#08140c" stroke-width="0.65" stroke-opacity="0.6"/>
<line x1="440.0" y1="266.4" x2="439.9" y2="268.8" stroke="#08140c" stroke-width="0.65" stroke-opacity="0.6"/>
<line x1="466.7" y1="203.1" x2="466.7" y2="204.7" stroke="#08140c" stroke-width="0.65" stroke-opacity="0.6"/>
<line x1="441.4" y1="82.3" x2="439.6" y2="85.4" stroke="#08140c" stroke-width="0.65" stroke-opacity="0.6"/>
<line x1="464.1" y1="287.1" x2="464.5" y2="289.6" stroke="#08140c" stroke-width="0.65" stroke-opacity="0.6"/>
<line x1="465.7" y1="21.4" x2="465.7" y2="23.0" stroke="#08140c" stroke-width="0.65" stroke-opacity="0.6"/>
<line x1="438.5" y1="67.9" x2="438.4" y2="69.5" stroke="#08140c" stroke-width="0.65" stroke-opacity="0.6"/>
<line x1="454.2" y1="78.4" x2="454.1" y2="80.5" stroke="#08140c" stroke-width="0.65" stroke-opacity="0.6"/>
<line x1="439.5" y1="63.6" x2="438.1" y2="66.1" stroke="#08140c" stroke-width="0.65" stroke-opacity="0.6"/>
<line x1="459.8" y1="235.0" x2="460.4" y2="238.6" stroke="#08140c" stroke-width="0.65" stroke-opacity="0.6"/>
<line x1="437.1" y1="275.5" x2="437.1" y2="277.7" stroke="#08140c" stroke-width="0.65" stroke-opacity="0.6"/>
<line x1="467.4" y1="187.2" x2="468.1" y2="191.3" stroke="#08140c" stroke-width="0.65" stroke-opacity="0.6"/>
<line x1="443.9" y1="60.7" x2="442.5" y2="63.2" stroke="#08140c" stroke-width="0.65" stroke-opacity="0.6"/>
<line x1="440.0" y1="254.6" x2="438.1" y2="257.9" stroke="#08140c" stroke-width="0.65" stroke-opacity="0.6"/>
<line x1="465.1" y1="8.5" x2="465.1" y2="10.9" stroke="#08140c" stroke-width="0.65" stroke-opacity="0.6"/>
<line x1="462.9" y1="272.9" x2="461.3" y2="275.8" stroke="#08140c" stroke-width="0.65" stroke-opacity="0.6"/>
<line x1="438.2" y1="121.8" x2="440.0" y2="124.9" stroke="#08140c" stroke-width="0.65" stroke-opacity="0.6"/>
<line x1="440.1" y1="202.6" x2="441.3" y2="204.6" stroke="#08140c" stroke-width="0.65" stroke-opacity="0.6"/>
<line x1="440.6" y1="195.1" x2="442.6" y2="198.6" stroke="#08140c" stroke-width="0.65" stroke-opacity="0.6"/>
<line x1="440.3" y1="300.5" x2="440.1" y2="304.2" stroke="#08140c" stroke-width="0.65" stroke-opacity="0.6"/>
<line x1="462.8" y1="306.3" x2="462.7" y2="310.3" stroke="#08140c" stroke-width="0.65" stroke-opacity="0.6"/>
<line x1="466.3" y1="175.9" x2="466.2" y2="177.8" stroke="#08140c" stroke-width="0.65" stroke-opacity="0.6"/>
<line x1="466.2" y1="293.2" x2="467.5" y2="295.5" stroke="#08140c" stroke-width="0.65" stroke-opacity="0.6"/>
<line x1="462.7" y1="62.9" x2="462.8" y2="65.9" stroke="#08140c" stroke-width="0.65" stroke-opacity="0.6"/>
<line x1="466.6" y1="226.7" x2="466.5" y2="228.6" stroke="#08140c" stroke-width="0.65" stroke-opacity="0.6"/>
<line x1="438.4" y1="26.4" x2="438.1" y2="30.0" stroke="#08140c" stroke-width="0.65" stroke-opacity="0.6"/>
<line x1="442.3" y1="145.6" x2="442.2" y2="148.5" stroke="#08140c" stroke-width="0.65" stroke-opacity="0.6"/>
<line x1="465.6" y1="223.7" x2="465.7" y2="227.6" stroke="#08140c" stroke-width="0.65" stroke-opacity="0.6"/>
<line x1="441.5" y1="241.5" x2="441.1" y2="245.9" stroke="#08140c" stroke-width="0.65" stroke-opacity="0.6"/>
<line x1="464.2" y1="130.9" x2="464.1" y2="133.0" stroke="#08140c" stroke-width="0.65" stroke-opacity="0.6"/>
<line x1="440.2" y1="117.5" x2="439.8" y2="121.8" stroke="#08140c" stroke-width="0.65" stroke-opacity="0.6"/>
<line x1="462.2" y1="211.8" x2="463.8" y2="214.5" stroke="#08140c" stroke-width="0.65" stroke-opacity="0.6"/>
</g>
<g transform="matrix(1,0,0,1,0,0)" fill="none" stroke-width="1" stroke-opacity="0.5" stroke-linecap="round"><line x1="72.0" y1="48.5" x2="110.5" y2="24.6" stroke="#30d2d2"/>
<line x1="72.0" y1="67.4" x2="110.5" y2="43.5" stroke="#d04a30"/>
<line x1="72.0" y1="75.9" x2="110.5" y2="52.0" stroke="#e8d050"/>
<line x1="72.0" y1="100.1" x2="110.5" y2="76.2" stroke="#78dc78"/>
<line x1="72.0" y1="116.8" x2="110.5" y2="92.9" stroke="#b85048"/>
<line x1="72.0" y1="135.6" x2="110.5" y2="111.7" stroke="#5a86e0"/>
<line x1="72.0" y1="135.6" x2="110.5" y2="111.8" stroke="#d04a30"/>
<line x1="72.0" y1="159.1" x2="110.5" y2="135.2" stroke="#30d2d2"/>
<line x1="72.0" y1="175.4" x2="110.5" y2="151.5" stroke="#7a60b4"/>
<line x1="72.0" y1="183.2" x2="110.5" y2="159.3" stroke="#7a60b4"/>
<line x1="72.0" y1="198.7" x2="110.5" y2="174.9" stroke="#f0a858"/>
<line x1="72.0" y1="219.0" x2="110.5" y2="195.1" stroke="#5a86e0"/>
<line x1="72.0" y1="228.6" x2="110.5" y2="204.7" stroke="#5a86e0"/>
<line x1="72.0" y1="241.1" x2="110.5" y2="217.2" stroke="#d04a30"/>
<line x1="72.0" y1="259.5" x2="110.5" y2="235.6" stroke="#78dc78"/>
<line x1="72.0" y1="275.8" x2="110.5" y2="251.9" stroke="#5a86e0"/>
<line x1="72.0" y1="320.5" x2="110.5" y2="296.7" stroke="#30d2d2"/>
<line x1="72.0" y1="316.6" x2="110.5" y2="292.7" stroke="#5a86e0"/>
<line x1="72.0" y1="342.2" x2="110.5" y2="318.3" stroke="#78dc78"/></g>
<g transform="matrix(1.15,0,0,1.015,185.2,-5.58)" fill="none" stroke-width="1" stroke-opacity="0.5" stroke-linecap="round"><line x1="72.0" y1="48.5" x2="110.5" y2="24.6" stroke="#30d2d2"/>
<line x1="72.0" y1="67.4" x2="110.5" y2="43.5" stroke="#d04a30"/>
<line x1="72.0" y1="75.9" x2="110.5" y2="52.0" stroke="#e8d050"/>
<line x1="72.0" y1="100.1" x2="110.5" y2="76.2" stroke="#78dc78"/>
<line x1="72.0" y1="116.8" x2="110.5" y2="92.9" stroke="#b85048"/>
<line x1="72.0" y1="135.6" x2="110.5" y2="111.7" stroke="#5a86e0"/>
<line x1="72.0" y1="135.6" x2="110.5" y2="111.8" stroke="#d04a30"/>
<line x1="72.0" y1="159.1" x2="110.5" y2="135.2" stroke="#30d2d2"/>
<line x1="72.0" y1="175.4" x2="110.5" y2="151.5" stroke="#7a60b4"/>
<line x1="72.0" y1="183.2" x2="110.5" y2="159.3" stroke="#7a60b4"/>
<line x1="72.0" y1="198.7" x2="110.5" y2="174.9" stroke="#f0a858"/>
<line x1="72.0" y1="219.0" x2="110.5" y2="195.1" stroke="#5a86e0"/>
<line x1="72.0" y1="228.6" x2="110.5" y2="204.7" stroke="#5a86e0"/>
<line x1="72.0" y1="241.1" x2="110.5" y2="217.2" stroke="#d04a30"/>
<line x1="72.0" y1="259.5" x2="110.5" y2="235.6" stroke="#78dc78"/>
<line x1="72.0" y1="275.8" x2="110.5" y2="251.9" stroke="#5a86e0"/>
<line x1="72.0" y1="320.5" x2="110.5" y2="296.7" stroke="#30d2d2"/>
<line x1="72.0" y1="316.6" x2="110.5" y2="292.7" stroke="#5a86e0"/>
<line x1="72.0" y1="342.2" x2="110.5" y2="318.3" stroke="#78dc78"/></g>
<g transform="matrix(0.97,0,0,0.97,364.16,-8.64)" fill="none" stroke-width="1" stroke-opacity="0.5" stroke-linecap="round"><line x1="72.0" y1="48.5" x2="110.5" y2="24.6" stroke="#30d2d2"/>
<line x1="72.0" y1="67.4" x2="110.5" y2="43.5" stroke="#d04a30"/>
<line x1="72.0" y1="75.9" x2="110.5" y2="52.0" stroke="#e8d050"/>
<line x1="72.0" y1="100.1" x2="110.5" y2="76.2" stroke="#78dc78"/>
<line x1="72.0" y1="116.8" x2="110.5" y2="92.9" stroke="#b85048"/>
<line x1="72.0" y1="135.6" x2="110.5" y2="111.7" stroke="#5a86e0"/>
<line x1="72.0" y1="135.6" x2="110.5" y2="111.8" stroke="#d04a30"/>
<line x1="72.0" y1="159.1" x2="110.5" y2="135.2" stroke="#30d2d2"/>
<line x1="72.0" y1="175.4" x2="110.5" y2="151.5" stroke="#7a60b4"/>
<line x1="72.0" y1="183.2" x2="110.5" y2="159.3" stroke="#7a60b4"/>
<line x1="72.0" y1="198.7" x2="110.5" y2="174.9" stroke="#f0a858"/>
<line x1="72.0" y1="219.0" x2="110.5" y2="195.1" stroke="#5a86e0"/>
<line x1="72.0" y1="228.6" x2="110.5" y2="204.7" stroke="#5a86e0"/>
<line x1="72.0" y1="241.1" x2="110.5" y2="217.2" stroke="#d04a30"/>
<line x1="72.0" y1="259.5" x2="110.5" y2="235.6" stroke="#78dc78"/>
<line x1="72.0" y1="275.8" x2="110.5" y2="251.9" stroke="#5a86e0"/>
<line x1="72.0" y1="320.5" x2="110.5" y2="296.7" stroke="#30d2d2"/>
<line x1="72.0" y1="316.6" x2="110.5" y2="292.7" stroke="#5a86e0"/>
<line x1="72.0" y1="342.2" x2="110.5" y2="318.3" stroke="#78dc78"/></g>
<rect x="117.8" y="60.20" width="15.4" height="24.12" fill="#ff4800"/>
<rect x="117.8" y="83.92" width="15.4" height="24.12" fill="#ffb400"/>
<rect x="117.8" y="107.64" width="15.4" height="24.12" fill="#ffff00"/>
<rect x="117.8" y="131.36" width="15.4" height="24.12" fill="#88ff00"/>
<rect x="117.8" y="155.08" width="15.4" height="24.12" fill="#00ff00"/>
<rect x="117.8" y="178.80" width="15.4" height="24.12" fill="#00ff66"/>
<rect x="117.8" y="202.52" width="15.4" height="24.12" fill="#00ffc8"/>
<rect x="117.8" y="226.24" width="15.4" height="24.12" fill="#00ffff"/>
<rect x="117.8" y="249.96" width="15.4" height="24.12" fill="#00a0ff"/>
<rect x="117.8" y="273.68" width="15.4" height="24.12" fill="#0028ff"/>
<rect x="118.10" y="60.20" width="14.80" height="237.20" fill="none" stroke="#000" stroke-opacity="0.22" stroke-width="0.6"/>
<line x1="117.8" y1="60.60" x2="136.20" y2="60.60" stroke="#303030" stroke-width="1"/>
<line x1="133.20" y1="83.92" x2="136.20" y2="83.92" stroke="#555" stroke-width="0.8"/>
<line x1="133.20" y1="107.64" x2="136.20" y2="107.64" stroke="#555" stroke-width="0.8"/>
<line x1="133.20" y1="131.36" x2="136.20" y2="131.36" stroke="#555" stroke-width="0.8"/>
<line x1="133.20" y1="155.08" x2="136.20" y2="155.08" stroke="#555" stroke-width="0.8"/>
<line x1="133.20" y1="178.80" x2="136.20" y2="178.80" stroke="#555" stroke-width="0.8"/>
<line x1="133.20" y1="202.52" x2="136.20" y2="202.52" stroke="#555" stroke-width="0.8"/>
<line x1="133.20" y1="226.24" x2="136.20" y2="226.24" stroke="#555" stroke-width="0.8"/>
<line x1="133.20" y1="249.96" x2="136.20" y2="249.96" stroke="#555" stroke-width="0.8"/>
<line x1="133.20" y1="273.68" x2="136.20" y2="273.68" stroke="#555" stroke-width="0.8"/>
<line x1="133.20" y1="297.40" x2="136.20" y2="297.40" stroke="#555" stroke-width="0.8"/>
<rect x="318.4" y="56.60" width="9.8" height="23.86" fill="#ff4800"/>
<rect x="318.4" y="80.06" width="9.8" height="23.86" fill="#ffb400"/>
<rect x="318.4" y="103.52" width="9.8" height="23.86" fill="#ffff00"/>
<rect x="318.4" y="126.98" width="9.8" height="23.86" fill="#88ff00"/>
<rect x="318.4" y="150.44" width="9.8" height="23.86" fill="#00ff00"/>
<rect x="318.4" y="173.90" width="9.8" height="23.86" fill="#00ff66"/>
<rect x="318.4" y="197.36" width="9.8" height="23.86" fill="#00ffc8"/>
<rect x="318.4" y="220.82" width="9.8" height="23.86" fill="#00ffff"/>
<rect x="318.4" y="244.28" width="9.8" height="23.86" fill="#00a0ff"/>
<rect x="318.4" y="267.74" width="9.8" height="23.86" fill="#0028ff"/>
<rect x="318.70" y="56.60" width="9.20" height="234.60" fill="none" stroke="#000" stroke-opacity="0.22" stroke-width="0.6"/>
<line x1="318.4" y1="57.00" x2="330.00" y2="57.00" stroke="#303030" stroke-width="1"/>
<line x1="328.20" y1="80.06" x2="330.00" y2="80.06" stroke="#222" stroke-width="0.8"/>
<line x1="328.20" y1="103.52" x2="330.00" y2="103.52" stroke="#222" stroke-width="0.8"/>
<line x1="328.20" y1="126.98" x2="330.00" y2="126.98" stroke="#222" stroke-width="0.8"/>
<line x1="328.20" y1="150.44" x2="330.00" y2="150.44" stroke="#222" stroke-width="0.8"/>
<line x1="328.20" y1="173.90" x2="330.00" y2="173.90" stroke="#222" stroke-width="0.8"/>
<line x1="328.20" y1="197.36" x2="330.00" y2="197.36" stroke="#222" stroke-width="0.8"/>
<line x1="328.20" y1="220.82" x2="330.00" y2="220.82" stroke="#222" stroke-width="0.8"/>
<line x1="328.20" y1="244.28" x2="330.00" y2="244.28" stroke="#222" stroke-width="0.8"/>
<line x1="328.20" y1="267.74" x2="330.00" y2="267.74" stroke="#222" stroke-width="0.8"/>
<line x1="328.20" y1="291.20" x2="330.00" y2="291.20" stroke="#222" stroke-width="0.8"/>
<rect x="477.3" y="55.20" width="12.7" height="23.06" fill="#ff4800"/>
<rect x="477.3" y="77.86" width="12.7" height="23.06" fill="#ffb400"/>
<rect x="477.3" y="100.52" width="12.7" height="23.06" fill="#ffff00"/>
<rect x="477.3" y="123.18" width="12.7" height="23.06" fill="#88ff00"/>
<rect x="477.3" y="145.84" width="12.7" height="23.06" fill="#00ff00"/>
<rect x="477.3" y="168.50" width="12.7" height="23.06" fill="#00ff66"/>
<rect x="477.3" y="191.16" width="12.7" height="23.06" fill="#00ffc8"/>
<rect x="477.3" y="213.82" width="12.7" height="23.06" fill="#00ffff"/>
<rect x="477.3" y="236.48" width="12.7" height="23.06" fill="#00a0ff"/>
<rect x="477.3" y="259.14" width="12.7" height="23.06" fill="#0028ff"/>
<rect x="477.60" y="55.20" width="12.10" height="226.60" fill="none" stroke="#000" stroke-opacity="0.22" stroke-width="0.6"/>
<line x1="477.3" y1="55.60" x2="493.00" y2="55.60" stroke="#303030" stroke-width="1"/>
<line x1="490.00" y1="77.86" x2="493.00" y2="77.86" stroke="#555" stroke-width="0.8"/>
<line x1="490.00" y1="100.52" x2="493.00" y2="100.52" stroke="#555" stroke-width="0.8"/>
<line x1="490.00" y1="123.18" x2="493.00" y2="123.18" stroke="#555" stroke-width="0.8"/>
<line x1="490.00" y1="145.84" x2="493.00" y2="145.84" stroke="#555" stroke-width="0.8"/>
<line x1="490.00" y1="168.50" x2="493.00" y2="168.50" stroke="#555" stroke-width="0.8"/>
<line x1="490.00" y1="191.16" x2="493.00" y2="191.16" stroke="#555" stroke-width="0.8"/>
<line x1="490.00" y1="213.82" x2="493.00" y2="213.82" stroke="#555" stroke-width="0.8"/>
<line x1="490.00" y1="236.48" x2="493.00" y2="236.48" stroke="#555" stroke-width="0.8"/>
<line x1="490.00" y1="259.14" x2="493.00" y2="259.14" stroke="#555" stroke-width="0.8"/>
<line x1="490.00" y1="281.80" x2="493.00" y2="281.80" stroke="#555" stroke-width="0.8"/>
<g font-family="'Liberation Sans', sans-serif" fill="#111" stroke="#111" stroke-width="0.3">
<text x="118.6" y="49.9" font-size="13.0" textLength="43.2" lengthAdjust="spacingAndGlyphs">Velocity</text>
<text x="141.2" y="65.90" font-size="13.4" textLength="20.60" lengthAdjust="spacingAndGlyphs">107</text>
<text x="141.2" y="89.75" font-size="13.4" textLength="13.73" lengthAdjust="spacingAndGlyphs">96</text>
<text x="141.2" y="113.60" font-size="13.4" textLength="13.73" lengthAdjust="spacingAndGlyphs">86</text>
<text x="141.2" y="137.45" font-size="13.4" textLength="13.73" lengthAdjust="spacingAndGlyphs">75</text>
<text x="141.2" y="161.30" font-size="13.4" textLength="13.73" lengthAdjust="spacingAndGlyphs">64</text>
<text x="141.2" y="185.15" font-size="13.4" textLength="13.73" lengthAdjust="spacingAndGlyphs">54</text>
<text x="141.2" y="209.00" font-size="13.4" textLength="13.73" lengthAdjust="spacingAndGlyphs">43</text>
<text x="141.2" y="232.85" font-size="13.4" textLength="13.73" lengthAdjust="spacingAndGlyphs">32</text>
<text x="141.2" y="256.70" font-size="13.4" textLength="13.73" lengthAdjust="spacingAndGlyphs">21</text>
<text x="141.2" y="280.55" font-size="13.4" textLength="13.73" lengthAdjust="spacingAndGlyphs">11</text>
<text x="141.2" y="304.40" font-size="13.4" textLength="6.87" lengthAdjust="spacingAndGlyphs">0</text>
<text x="118.4" y="320.2" font-size="13.2" textLength="49" lengthAdjust="spacingAndGlyphs">[m s^−1]</text>
<text x="319.6" y="46.4" font-size="12.4" textLength="42.6" lengthAdjust="spacingAndGlyphs">Temperature</text>
<text x="333.1" y="62.53" font-size="12.8" textLength="12.8" lengthAdjust="spacingAndGlyphs">668</text>
<text x="333.1" y="86.02" font-size="12.8" textLength="12.8" lengthAdjust="spacingAndGlyphs">632</text>
<text x="333.1" y="109.51" font-size="12.8" textLength="12.8" lengthAdjust="spacingAndGlyphs">596</text>
<text x="333.1" y="133.00" font-size="12.8" textLength="12.8" lengthAdjust="spacingAndGlyphs">560</text>
<text x="333.1" y="156.49" font-size="12.8" textLength="12.8" lengthAdjust="spacingAndGlyphs">524</text>
<text x="333.1" y="179.98" font-size="12.8" textLength="12.8" lengthAdjust="spacingAndGlyphs">488</text>
<text x="333.1" y="203.47" font-size="12.8" textLength="12.8" lengthAdjust="spacingAndGlyphs">453</text>
<text x="333.1" y="226.96" font-size="12.8" textLength="12.8" lengthAdjust="spacingAndGlyphs">417</text>
<text x="333.1" y="250.45" font-size="12.8" textLength="12.8" lengthAdjust="spacingAndGlyphs">381</text>
<text x="333.1" y="273.94" font-size="12.8" textLength="12.8" lengthAdjust="spacingAndGlyphs">345</text>
<text x="333.1" y="297.43" font-size="12.8" textLength="12.8" lengthAdjust="spacingAndGlyphs">309</text>
<text x="318.8" y="313.2" font-size="13.6" textLength="10" lengthAdjust="spacingAndGlyphs">[K]</text>
<text x="496.4" y="59.60" font-size="12.6" textLength="31.4" lengthAdjust="spacingAndGlyphs">14,614</text>
<text x="496.4" y="82.26" font-size="12.6" textLength="31.4" lengthAdjust="spacingAndGlyphs">14,596</text>
<text x="496.4" y="104.92" font-size="12.6" textLength="31.4" lengthAdjust="spacingAndGlyphs">14,578</text>
<text x="496.4" y="127.58" font-size="12.6" textLength="31.4" lengthAdjust="spacingAndGlyphs">14,560</text>
<text x="496.4" y="150.24" font-size="12.6" textLength="31.4" lengthAdjust="spacingAndGlyphs">14,541</text>
<text x="496.4" y="172.90" font-size="12.6" textLength="31.4" lengthAdjust="spacingAndGlyphs">14,523</text>
<text x="496.4" y="195.56" font-size="12.6" textLength="31.4" lengthAdjust="spacingAndGlyphs">14,505</text>
<text x="496.4" y="218.22" font-size="12.6" textLength="31.4" lengthAdjust="spacingAndGlyphs">14,486</text>
<text x="496.4" y="240.88" font-size="12.6" textLength="31.4" lengthAdjust="spacingAndGlyphs">14,468</text>
<text x="496.4" y="263.54" font-size="12.6" textLength="31.4" lengthAdjust="spacingAndGlyphs">14,450</text>
<text x="496.4" y="286.20" font-size="12.6" textLength="31.4" lengthAdjust="spacingAndGlyphs">14,432</text>
<text x="477.4" y="303.6" font-size="13.4" textLength="70.6" lengthAdjust="spacingAndGlyphs">[J kg^−1 K^−1]</text>
</g>
<g font-family="'Liberation Serif', serif" fill="#111" stroke="#111" stroke-width="0.15">
<text x="472.6" y="25.6" font-size="14" textLength="73.6" lengthAdjust="spacingAndGlyphs">Specific Heat</text>
<text x="473" y="46.2" font-size="14" textLength="45" lengthAdjust="spacingAndGlyphs">Transfer</text>
<g stroke="none">
<text x="33" y="375.7" font-size="15.5">(a)</text>
<text x="219.6" y="377.7" font-size="15.5">(b)</text>
<text x="407.2" y="378.6" font-size="15.5">(c)</text>
</g>
</g>
</svg>
</body></html>
